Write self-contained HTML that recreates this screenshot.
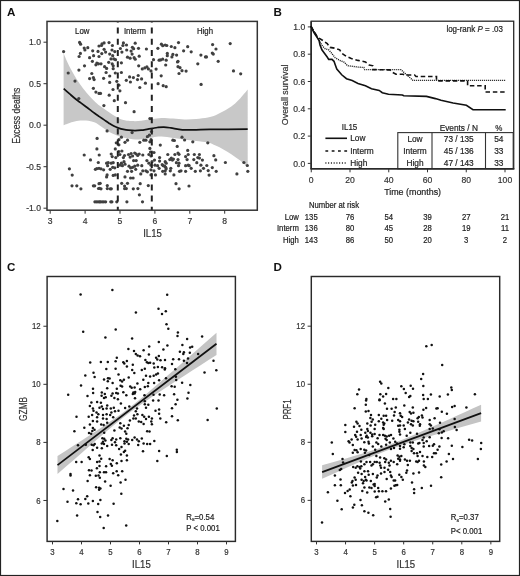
<!DOCTYPE html>
<html><head><meta charset="utf-8"><style>
html,body{margin:0;padding:0;background:#fff;}
body{width:520px;height:576px;overflow:hidden;}
svg{display:block;will-change:transform;font-family:"Liberation Sans", sans-serif;}
</style></head><body>
<svg width="520" height="576" viewBox="0 0 520 576">
<rect x="0" y="0" width="520" height="576" fill="#fff"/>
<text x="7.00" y="15.80" font-size="11.6" text-anchor="start" font-weight="bold" fill="#111" stroke="#111" stroke-width="0" >A</text>
<path d="M63.60,52.60 C63.67,52.87 63.38,52.65 64.00,54.20 C64.62,55.75 66.15,59.40 67.30,61.90 C68.45,64.40 69.68,66.90 70.90,69.20 C72.12,71.50 73.38,73.63 74.60,75.70 C75.82,77.77 76.98,79.77 78.20,81.60 C79.42,83.43 80.70,85.08 81.90,86.70 C83.10,88.32 83.95,89.55 85.40,91.30 C86.85,93.05 88.87,95.35 90.60,97.20 C92.33,99.05 94.10,100.83 95.80,102.40 C97.50,103.97 99.02,105.23 100.80,106.60 C102.58,107.97 104.58,109.27 106.50,110.60 C108.42,111.93 110.37,113.37 112.30,114.60 C114.23,115.83 116.23,117.10 118.10,118.00 C119.97,118.90 121.80,119.53 123.50,120.00 C125.20,120.47 126.38,120.60 128.30,120.80 C130.22,121.00 132.85,121.20 135.00,121.20 C137.15,121.20 139.22,121.03 141.20,120.80 C143.18,120.57 144.98,120.12 146.90,119.80 C148.82,119.48 150.27,119.22 152.70,118.90 C155.13,118.58 158.10,117.97 161.50,117.90 C164.90,117.83 169.25,118.25 173.10,118.50 C176.95,118.75 180.75,119.32 184.60,119.40 C188.45,119.48 192.33,119.32 196.20,119.00 C200.07,118.68 204.57,118.13 207.80,117.50 C211.03,116.87 213.00,116.23 215.60,115.20 C218.20,114.17 220.78,112.73 223.40,111.30 C226.02,109.87 228.68,108.57 231.30,106.60 C233.92,104.63 236.37,102.37 239.10,99.50 C241.83,96.63 246.27,91.08 247.70,89.40 L247.7,167 L247.70,167.00 C246.27,165.80 241.83,161.93 239.10,159.80 C236.37,157.67 233.92,155.93 231.30,154.20 C228.68,152.47 226.02,150.85 223.40,149.40 C220.78,147.95 218.20,146.65 215.60,145.50 C213.00,144.35 211.03,143.25 207.80,142.50 C204.57,141.75 200.07,141.45 196.20,141.00 C192.33,140.55 188.45,140.28 184.60,139.80 C180.75,139.32 176.95,138.63 173.10,138.10 C169.25,137.57 164.90,136.72 161.50,136.60 C158.10,136.48 155.13,137.12 152.70,137.40 C150.27,137.68 148.82,138.00 146.90,138.30 C144.98,138.60 143.12,139.02 141.20,139.20 C139.28,139.38 137.33,139.47 135.40,139.40 C133.47,139.33 131.53,139.08 129.60,138.80 C127.67,138.52 125.72,138.17 123.80,137.70 C121.88,137.23 120.02,136.70 118.10,136.00 C116.18,135.30 114.23,134.47 112.30,133.50 C110.37,132.53 108.42,131.42 106.50,130.20 C104.58,128.98 102.72,127.47 100.80,126.20 C98.88,124.93 97.08,123.50 95.00,122.60 C92.92,121.70 90.73,121.13 88.30,120.80 C85.87,120.47 83.02,120.38 80.40,120.60 C77.78,120.82 75.40,121.32 72.60,122.10 C69.80,122.88 65.10,124.77 63.60,125.30 Z" fill="#c8c8c8" stroke="none"/>
<circle cx="63.6" cy="51.6" r="1.6" fill="#404040"/>
<circle cx="79.6" cy="42.4" r="1.6" fill="#404040"/>
<circle cx="80.6" cy="44.2" r="1.6" fill="#404040"/>
<circle cx="84.2" cy="48.0" r="1.6" fill="#404040"/>
<circle cx="84.9" cy="50.0" r="1.6" fill="#404040"/>
<circle cx="87.8" cy="47.7" r="1.6" fill="#404040"/>
<circle cx="92.7" cy="50.8" r="1.6" fill="#404040"/>
<circle cx="98.0" cy="51.4" r="1.6" fill="#404040"/>
<circle cx="99.0" cy="46.0" r="1.6" fill="#404040"/>
<circle cx="80.4" cy="53.4" r="1.6" fill="#404040"/>
<circle cx="79.1" cy="56.5" r="1.6" fill="#404040"/>
<circle cx="93.6" cy="55.7" r="1.6" fill="#404040"/>
<circle cx="89.6" cy="57.7" r="1.6" fill="#404040"/>
<circle cx="92.4" cy="61.3" r="1.6" fill="#404040"/>
<circle cx="99.0" cy="56.5" r="1.6" fill="#404040"/>
<circle cx="96.9" cy="63.0" r="1.6" fill="#404040"/>
<circle cx="95.9" cy="64.8" r="1.6" fill="#404040"/>
<circle cx="98.5" cy="63.8" r="1.6" fill="#404040"/>
<circle cx="84.5" cy="65.8" r="1.6" fill="#404040"/>
<circle cx="78.9" cy="70.1" r="1.6" fill="#404040"/>
<circle cx="68.2" cy="73.0" r="1.6" fill="#404040"/>
<circle cx="91.8" cy="73.5" r="1.6" fill="#404040"/>
<circle cx="102.0" cy="43.9" r="1.6" fill="#404040"/>
<circle cx="104.1" cy="42.9" r="1.6" fill="#404040"/>
<circle cx="101.5" cy="45.5" r="1.6" fill="#404040"/>
<circle cx="109.0" cy="42.6" r="1.6" fill="#404040"/>
<circle cx="112.4" cy="45.5" r="1.6" fill="#404040"/>
<circle cx="104.1" cy="49.3" r="1.6" fill="#404040"/>
<circle cx="101.8" cy="53.6" r="1.6" fill="#404040"/>
<circle cx="105.6" cy="52.1" r="1.6" fill="#404040"/>
<circle cx="112.0" cy="50.0" r="1.6" fill="#404040"/>
<circle cx="109.7" cy="54.1" r="1.6" fill="#404040"/>
<circle cx="114.8" cy="51.6" r="1.6" fill="#404040"/>
<circle cx="112.7" cy="55.7" r="1.6" fill="#404040"/>
<circle cx="111.0" cy="58.9" r="1.6" fill="#404040"/>
<circle cx="113.8" cy="58.9" r="1.6" fill="#404040"/>
<circle cx="115.5" cy="59.7" r="1.6" fill="#404040"/>
<circle cx="108.7" cy="62.3" r="1.6" fill="#404040"/>
<circle cx="112.2" cy="63.8" r="1.6" fill="#404040"/>
<circle cx="113.2" cy="65.8" r="1.6" fill="#404040"/>
<circle cx="104.6" cy="66.7" r="1.6" fill="#404040"/>
<circle cx="106.6" cy="68.4" r="1.6" fill="#404040"/>
<circle cx="113.2" cy="68.7" r="1.6" fill="#404040"/>
<circle cx="101.0" cy="63.8" r="1.6" fill="#404040"/>
<circle cx="121.4" cy="62.8" r="1.6" fill="#404040"/>
<circle cx="120.4" cy="48.5" r="1.6" fill="#404040"/>
<circle cx="122.9" cy="45.5" r="1.6" fill="#404040"/>
<circle cx="123.4" cy="42.9" r="1.6" fill="#404040"/>
<circle cx="126.5" cy="45.0" r="1.6" fill="#404040"/>
<circle cx="121.9" cy="52.1" r="1.6" fill="#404040"/>
<circle cx="126.7" cy="50.0" r="1.6" fill="#404040"/>
<circle cx="131.1" cy="51.1" r="1.6" fill="#404040"/>
<circle cx="132.4" cy="47.3" r="1.6" fill="#404040"/>
<circle cx="133.6" cy="48.7" r="1.6" fill="#404040"/>
<circle cx="135.2" cy="43.2" r="1.6" fill="#404040"/>
<circle cx="138.5" cy="48.3" r="1.6" fill="#404040"/>
<circle cx="132.1" cy="54.1" r="1.6" fill="#404040"/>
<circle cx="139.2" cy="56.2" r="1.6" fill="#404040"/>
<circle cx="127.5" cy="57.2" r="1.6" fill="#404040"/>
<circle cx="130.1" cy="58.2" r="1.6" fill="#404040"/>
<circle cx="134.1" cy="57.7" r="1.6" fill="#404040"/>
<circle cx="135.2" cy="59.2" r="1.6" fill="#404040"/>
<circle cx="146.4" cy="49.0" r="1.6" fill="#404040"/>
<circle cx="138.7" cy="65.8" r="1.6" fill="#404040"/>
<circle cx="142.3" cy="68.9" r="1.6" fill="#404040"/>
<circle cx="144.8" cy="67.9" r="1.6" fill="#404040"/>
<circle cx="146.9" cy="66.9" r="1.6" fill="#404040"/>
<circle cx="148.4" cy="68.9" r="1.6" fill="#404040"/>
<circle cx="151.0" cy="70.9" r="1.6" fill="#404040"/>
<circle cx="106.1" cy="72.5" r="1.6" fill="#404040"/>
<circle cx="121.4" cy="72.5" r="1.6" fill="#404040"/>
<circle cx="115.3" cy="73.0" r="1.6" fill="#404040"/>
<circle cx="157.9" cy="48.3" r="1.6" fill="#404040"/>
<circle cx="161.4" cy="44.2" r="1.6" fill="#404040"/>
<circle cx="162.7" cy="45.7" r="1.6" fill="#404040"/>
<circle cx="165.2" cy="45.0" r="1.6" fill="#404040"/>
<circle cx="166.8" cy="45.5" r="1.6" fill="#404040"/>
<circle cx="171.3" cy="46.5" r="1.6" fill="#404040"/>
<circle cx="174.9" cy="47.7" r="1.6" fill="#404040"/>
<circle cx="178.5" cy="42.6" r="1.6" fill="#404040"/>
<circle cx="187.7" cy="46.7" r="1.6" fill="#404040"/>
<circle cx="183.6" cy="50.8" r="1.6" fill="#404040"/>
<circle cx="191.2" cy="51.8" r="1.6" fill="#404040"/>
<circle cx="200.9" cy="55.1" r="1.6" fill="#404040"/>
<circle cx="205.5" cy="56.9" r="1.6" fill="#404040"/>
<circle cx="167.3" cy="53.4" r="1.6" fill="#404040"/>
<circle cx="167.3" cy="55.7" r="1.6" fill="#404040"/>
<circle cx="172.9" cy="54.4" r="1.6" fill="#404040"/>
<circle cx="171.9" cy="56.9" r="1.6" fill="#404040"/>
<circle cx="176.6" cy="55.1" r="1.6" fill="#404040"/>
<circle cx="153.5" cy="59.7" r="1.6" fill="#404040"/>
<circle cx="159.1" cy="60.2" r="1.6" fill="#404040"/>
<circle cx="160.6" cy="59.9" r="1.6" fill="#404040"/>
<circle cx="162.7" cy="59.2" r="1.6" fill="#404040"/>
<circle cx="166.2" cy="60.2" r="1.6" fill="#404040"/>
<circle cx="165.7" cy="65.0" r="1.6" fill="#404040"/>
<circle cx="178.0" cy="61.3" r="1.6" fill="#404040"/>
<circle cx="177.5" cy="62.0" r="1.6" fill="#404040"/>
<circle cx="197.8" cy="63.8" r="1.6" fill="#404040"/>
<circle cx="156.1" cy="69.1" r="1.6" fill="#404040"/>
<circle cx="178.0" cy="66.7" r="1.6" fill="#404040"/>
<circle cx="180.0" cy="67.7" r="1.6" fill="#404040"/>
<circle cx="182.0" cy="70.7" r="1.6" fill="#404040"/>
<circle cx="186.1" cy="71.1" r="1.6" fill="#404040"/>
<circle cx="179.0" cy="73.5" r="1.6" fill="#404040"/>
<circle cx="212.6" cy="44.6" r="1.6" fill="#404040"/>
<circle cx="216.0" cy="49.0" r="1.6" fill="#404040"/>
<circle cx="212.3" cy="53.1" r="1.6" fill="#404040"/>
<circle cx="213.3" cy="54.1" r="1.6" fill="#404040"/>
<circle cx="206.5" cy="56.9" r="1.6" fill="#404040"/>
<circle cx="218.2" cy="61.3" r="1.6" fill="#404040"/>
<circle cx="230.2" cy="43.6" r="1.6" fill="#404040"/>
<circle cx="233.5" cy="70.9" r="1.6" fill="#404040"/>
<circle cx="240.7" cy="73.8" r="1.6" fill="#404040"/>
<circle cx="75.0" cy="81.1" r="1.6" fill="#404040"/>
<circle cx="89.6" cy="78.6" r="1.6" fill="#404040"/>
<circle cx="93.4" cy="77.6" r="1.6" fill="#404040"/>
<circle cx="94.1" cy="79.6" r="1.6" fill="#404040"/>
<circle cx="93.4" cy="88.3" r="1.6" fill="#404040"/>
<circle cx="95.9" cy="92.1" r="1.6" fill="#404040"/>
<circle cx="99.0" cy="93.4" r="1.6" fill="#404040"/>
<circle cx="78.8" cy="98.5" r="1.6" fill="#404040"/>
<circle cx="103.6" cy="78.3" r="1.6" fill="#404040"/>
<circle cx="109.7" cy="76.0" r="1.6" fill="#404040"/>
<circle cx="109.7" cy="82.4" r="1.6" fill="#404040"/>
<circle cx="116.8" cy="81.3" r="1.6" fill="#404040"/>
<circle cx="118.9" cy="85.2" r="1.6" fill="#404040"/>
<circle cx="119.9" cy="90.8" r="1.6" fill="#404040"/>
<circle cx="113.0" cy="89.5" r="1.6" fill="#404040"/>
<circle cx="100.5" cy="93.4" r="1.6" fill="#404040"/>
<circle cx="109.2" cy="95.2" r="1.6" fill="#404040"/>
<circle cx="114.3" cy="100.7" r="1.6" fill="#404040"/>
<circle cx="103.9" cy="105.6" r="1.6" fill="#404040"/>
<circle cx="125.5" cy="102.7" r="1.6" fill="#404040"/>
<circle cx="126.3" cy="80.3" r="1.6" fill="#404040"/>
<circle cx="129.6" cy="76.9" r="1.6" fill="#404040"/>
<circle cx="130.4" cy="82.0" r="1.6" fill="#404040"/>
<circle cx="133.4" cy="77.6" r="1.6" fill="#404040"/>
<circle cx="137.5" cy="79.6" r="1.6" fill="#404040"/>
<circle cx="138.2" cy="75.5" r="1.6" fill="#404040"/>
<circle cx="141.6" cy="78.9" r="1.6" fill="#404040"/>
<circle cx="145.4" cy="83.2" r="1.6" fill="#404040"/>
<circle cx="139.8" cy="87.5" r="1.6" fill="#404040"/>
<circle cx="134.1" cy="111.7" r="1.6" fill="#404040"/>
<circle cx="149.9" cy="118.6" r="1.6" fill="#404040"/>
<circle cx="161.2" cy="75.8" r="1.6" fill="#404040"/>
<circle cx="158.1" cy="83.7" r="1.6" fill="#404040"/>
<circle cx="163.2" cy="85.7" r="1.6" fill="#404040"/>
<circle cx="166.2" cy="86.7" r="1.6" fill="#404040"/>
<circle cx="201.1" cy="84.4" r="1.6" fill="#404040"/>
<circle cx="97.1" cy="138.4" r="1.6" fill="#404040"/>
<circle cx="96.9" cy="148.9" r="1.6" fill="#404040"/>
<circle cx="84.2" cy="155.0" r="1.6" fill="#404040"/>
<circle cx="99.2" cy="155.0" r="1.6" fill="#404040"/>
<circle cx="90.5" cy="159.9" r="1.6" fill="#404040"/>
<circle cx="98.3" cy="162.5" r="1.6" fill="#404040"/>
<circle cx="95.4" cy="169.3" r="1.6" fill="#404040"/>
<circle cx="96.9" cy="168.6" r="1.6" fill="#404040"/>
<circle cx="99.0" cy="168.3" r="1.6" fill="#404040"/>
<circle cx="69.4" cy="168.8" r="1.6" fill="#404040"/>
<circle cx="72.2" cy="175.1" r="1.6" fill="#404040"/>
<circle cx="107.1" cy="130.9" r="1.6" fill="#404040"/>
<circle cx="132.1" cy="132.6" r="1.6" fill="#404040"/>
<circle cx="147.4" cy="136.7" r="1.6" fill="#404040"/>
<circle cx="149.4" cy="135.2" r="1.6" fill="#404040"/>
<circle cx="151.5" cy="131.6" r="1.6" fill="#404040"/>
<circle cx="121.4" cy="137.2" r="1.6" fill="#404040"/>
<circle cx="118.9" cy="139.7" r="1.6" fill="#404040"/>
<circle cx="116.3" cy="142.8" r="1.6" fill="#404040"/>
<circle cx="118.9" cy="144.8" r="1.6" fill="#404040"/>
<circle cx="125.0" cy="142.3" r="1.6" fill="#404040"/>
<circle cx="127.5" cy="140.2" r="1.6" fill="#404040"/>
<circle cx="139.8" cy="142.3" r="1.6" fill="#404040"/>
<circle cx="143.8" cy="140.2" r="1.6" fill="#404040"/>
<circle cx="145.9" cy="140.2" r="1.6" fill="#404040"/>
<circle cx="149.9" cy="141.8" r="1.6" fill="#404040"/>
<circle cx="151.0" cy="139.7" r="1.6" fill="#404040"/>
<circle cx="115.3" cy="148.9" r="1.6" fill="#404040"/>
<circle cx="111.2" cy="154.0" r="1.6" fill="#404040"/>
<circle cx="112.2" cy="156.6" r="1.6" fill="#404040"/>
<circle cx="118.9" cy="151.5" r="1.6" fill="#404040"/>
<circle cx="121.9" cy="151.0" r="1.6" fill="#404040"/>
<circle cx="119.9" cy="154.5" r="1.6" fill="#404040"/>
<circle cx="115.8" cy="157.6" r="1.6" fill="#404040"/>
<circle cx="124.5" cy="155.5" r="1.6" fill="#404040"/>
<circle cx="123.4" cy="157.6" r="1.6" fill="#404040"/>
<circle cx="128.5" cy="154.5" r="1.6" fill="#404040"/>
<circle cx="130.1" cy="157.1" r="1.6" fill="#404040"/>
<circle cx="131.1" cy="153.5" r="1.6" fill="#404040"/>
<circle cx="132.6" cy="156.0" r="1.6" fill="#404040"/>
<circle cx="134.7" cy="153.0" r="1.6" fill="#404040"/>
<circle cx="136.2" cy="154.0" r="1.6" fill="#404040"/>
<circle cx="137.7" cy="155.5" r="1.6" fill="#404040"/>
<circle cx="139.2" cy="154.0" r="1.6" fill="#404040"/>
<circle cx="142.8" cy="155.0" r="1.6" fill="#404040"/>
<circle cx="149.9" cy="148.4" r="1.6" fill="#404040"/>
<circle cx="150.5" cy="152.0" r="1.6" fill="#404040"/>
<circle cx="148.9" cy="154.5" r="1.6" fill="#404040"/>
<circle cx="151.0" cy="156.0" r="1.6" fill="#404040"/>
<circle cx="106.6" cy="163.2" r="1.6" fill="#404040"/>
<circle cx="108.2" cy="162.7" r="1.6" fill="#404040"/>
<circle cx="111.2" cy="163.2" r="1.6" fill="#404040"/>
<circle cx="113.2" cy="162.7" r="1.6" fill="#404040"/>
<circle cx="107.6" cy="165.7" r="1.6" fill="#404040"/>
<circle cx="121.4" cy="163.2" r="1.6" fill="#404040"/>
<circle cx="124.0" cy="161.7" r="1.6" fill="#404040"/>
<circle cx="125.0" cy="164.2" r="1.6" fill="#404040"/>
<circle cx="122.4" cy="165.7" r="1.6" fill="#404040"/>
<circle cx="119.9" cy="165.2" r="1.6" fill="#404040"/>
<circle cx="133.6" cy="160.6" r="1.6" fill="#404040"/>
<circle cx="136.2" cy="160.6" r="1.6" fill="#404040"/>
<circle cx="141.8" cy="165.7" r="1.6" fill="#404040"/>
<circle cx="146.9" cy="160.6" r="1.6" fill="#404040"/>
<circle cx="148.9" cy="163.2" r="1.6" fill="#404040"/>
<circle cx="151.0" cy="165.2" r="1.6" fill="#404040"/>
<circle cx="152.0" cy="161.7" r="1.6" fill="#404040"/>
<circle cx="101.0" cy="168.8" r="1.6" fill="#404040"/>
<circle cx="103.6" cy="169.8" r="1.6" fill="#404040"/>
<circle cx="110.2" cy="169.3" r="1.6" fill="#404040"/>
<circle cx="112.7" cy="167.3" r="1.6" fill="#404040"/>
<circle cx="114.8" cy="167.8" r="1.6" fill="#404040"/>
<circle cx="129.0" cy="166.2" r="1.6" fill="#404040"/>
<circle cx="130.6" cy="167.8" r="1.6" fill="#404040"/>
<circle cx="132.6" cy="167.3" r="1.6" fill="#404040"/>
<circle cx="134.7" cy="166.2" r="1.6" fill="#404040"/>
<circle cx="135.7" cy="169.3" r="1.6" fill="#404040"/>
<circle cx="137.7" cy="165.2" r="1.6" fill="#404040"/>
<circle cx="131.6" cy="171.3" r="1.6" fill="#404040"/>
<circle cx="127.5" cy="171.3" r="1.6" fill="#404040"/>
<circle cx="142.8" cy="170.8" r="1.6" fill="#404040"/>
<circle cx="145.9" cy="170.8" r="1.6" fill="#404040"/>
<circle cx="147.4" cy="171.8" r="1.6" fill="#404040"/>
<circle cx="140.8" cy="173.9" r="1.6" fill="#404040"/>
<circle cx="151.0" cy="169.8" r="1.6" fill="#404040"/>
<circle cx="107.1" cy="174.9" r="1.6" fill="#404040"/>
<circle cx="106.6" cy="176.9" r="1.6" fill="#404040"/>
<circle cx="113.2" cy="175.4" r="1.6" fill="#404040"/>
<circle cx="115.3" cy="174.9" r="1.6" fill="#404040"/>
<circle cx="125.0" cy="176.9" r="1.6" fill="#404040"/>
<circle cx="130.6" cy="178.0" r="1.6" fill="#404040"/>
<circle cx="133.1" cy="178.0" r="1.6" fill="#404040"/>
<circle cx="151.0" cy="174.9" r="1.6" fill="#404040"/>
<circle cx="172.9" cy="140.2" r="1.6" fill="#404040"/>
<circle cx="174.4" cy="140.5" r="1.6" fill="#404040"/>
<circle cx="182.0" cy="137.2" r="1.6" fill="#404040"/>
<circle cx="184.6" cy="140.0" r="1.6" fill="#404040"/>
<circle cx="192.8" cy="141.8" r="1.6" fill="#404040"/>
<circle cx="160.3" cy="145.1" r="1.6" fill="#404040"/>
<circle cx="177.2" cy="146.4" r="1.6" fill="#404040"/>
<circle cx="154.0" cy="152.5" r="1.6" fill="#404040"/>
<circle cx="167.8" cy="154.5" r="1.6" fill="#404040"/>
<circle cx="174.9" cy="154.5" r="1.6" fill="#404040"/>
<circle cx="178.0" cy="153.0" r="1.6" fill="#404040"/>
<circle cx="179.0" cy="154.3" r="1.6" fill="#404040"/>
<circle cx="187.7" cy="150.4" r="1.6" fill="#404040"/>
<circle cx="188.2" cy="154.5" r="1.6" fill="#404040"/>
<circle cx="194.3" cy="154.5" r="1.6" fill="#404040"/>
<circle cx="199.4" cy="154.5" r="1.6" fill="#404040"/>
<circle cx="185.6" cy="156.6" r="1.6" fill="#404040"/>
<circle cx="159.6" cy="157.6" r="1.6" fill="#404040"/>
<circle cx="154.5" cy="160.1" r="1.6" fill="#404040"/>
<circle cx="159.6" cy="161.1" r="1.6" fill="#404040"/>
<circle cx="169.8" cy="159.6" r="1.6" fill="#404040"/>
<circle cx="171.3" cy="158.1" r="1.6" fill="#404040"/>
<circle cx="172.4" cy="160.1" r="1.6" fill="#404040"/>
<circle cx="173.4" cy="159.1" r="1.6" fill="#404040"/>
<circle cx="178.0" cy="159.6" r="1.6" fill="#404040"/>
<circle cx="187.1" cy="159.6" r="1.6" fill="#404040"/>
<circle cx="193.8" cy="159.6" r="1.6" fill="#404040"/>
<circle cx="197.8" cy="157.6" r="1.6" fill="#404040"/>
<circle cx="199.4" cy="158.1" r="1.6" fill="#404040"/>
<circle cx="202.4" cy="160.1" r="1.6" fill="#404040"/>
<circle cx="165.2" cy="161.7" r="1.6" fill="#404040"/>
<circle cx="166.2" cy="163.2" r="1.6" fill="#404040"/>
<circle cx="176.4" cy="162.7" r="1.6" fill="#404040"/>
<circle cx="179.0" cy="163.2" r="1.6" fill="#404040"/>
<circle cx="196.8" cy="162.7" r="1.6" fill="#404040"/>
<circle cx="155.0" cy="165.2" r="1.6" fill="#404040"/>
<circle cx="157.6" cy="165.7" r="1.6" fill="#404040"/>
<circle cx="162.2" cy="164.7" r="1.6" fill="#404040"/>
<circle cx="163.2" cy="165.7" r="1.6" fill="#404040"/>
<circle cx="164.7" cy="166.2" r="1.6" fill="#404040"/>
<circle cx="165.7" cy="167.3" r="1.6" fill="#404040"/>
<circle cx="178.5" cy="165.7" r="1.6" fill="#404040"/>
<circle cx="185.6" cy="165.7" r="1.6" fill="#404040"/>
<circle cx="188.2" cy="165.2" r="1.6" fill="#404040"/>
<circle cx="189.2" cy="165.7" r="1.6" fill="#404040"/>
<circle cx="200.9" cy="165.2" r="1.6" fill="#404040"/>
<circle cx="159.1" cy="168.3" r="1.6" fill="#404040"/>
<circle cx="166.2" cy="168.8" r="1.6" fill="#404040"/>
<circle cx="170.8" cy="168.3" r="1.6" fill="#404040"/>
<circle cx="170.3" cy="170.8" r="1.6" fill="#404040"/>
<circle cx="191.2" cy="168.3" r="1.6" fill="#404040"/>
<circle cx="203.5" cy="168.3" r="1.6" fill="#404040"/>
<circle cx="154.0" cy="170.8" r="1.6" fill="#404040"/>
<circle cx="162.7" cy="171.3" r="1.6" fill="#404040"/>
<circle cx="165.2" cy="170.8" r="1.6" fill="#404040"/>
<circle cx="179.5" cy="171.3" r="1.6" fill="#404040"/>
<circle cx="181.0" cy="170.8" r="1.6" fill="#404040"/>
<circle cx="185.6" cy="171.3" r="1.6" fill="#404040"/>
<circle cx="195.3" cy="171.3" r="1.6" fill="#404040"/>
<circle cx="200.4" cy="170.8" r="1.6" fill="#404040"/>
<circle cx="155.5" cy="174.9" r="1.6" fill="#404040"/>
<circle cx="165.2" cy="173.9" r="1.6" fill="#404040"/>
<circle cx="173.9" cy="174.9" r="1.6" fill="#404040"/>
<circle cx="207.8" cy="142.8" r="1.6" fill="#404040"/>
<circle cx="213.9" cy="155.7" r="1.6" fill="#404040"/>
<circle cx="215.7" cy="159.9" r="1.6" fill="#404040"/>
<circle cx="225.4" cy="162.5" r="1.6" fill="#404040"/>
<circle cx="206.8" cy="165.5" r="1.6" fill="#404040"/>
<circle cx="212.3" cy="167.6" r="1.6" fill="#404040"/>
<circle cx="208.2" cy="170.6" r="1.6" fill="#404040"/>
<circle cx="216.2" cy="171.3" r="1.6" fill="#404040"/>
<circle cx="209.1" cy="175.1" r="1.6" fill="#404040"/>
<circle cx="236.9" cy="173.9" r="1.6" fill="#404040"/>
<circle cx="243.9" cy="162.5" r="1.6" fill="#404040"/>
<circle cx="247.3" cy="165.5" r="1.6" fill="#404040"/>
<circle cx="247.8" cy="171.3" r="1.6" fill="#404040"/>
<circle cx="72.0" cy="185.8" r="1.6" fill="#404040"/>
<circle cx="76.8" cy="185.8" r="1.6" fill="#404040"/>
<circle cx="80.9" cy="188.8" r="1.6" fill="#404040"/>
<circle cx="93.4" cy="185.8" r="1.6" fill="#404040"/>
<circle cx="94.7" cy="185.8" r="1.6" fill="#404040"/>
<circle cx="99.0" cy="183.7" r="1.6" fill="#404040"/>
<circle cx="98.5" cy="188.5" r="1.6" fill="#404040"/>
<circle cx="99.5" cy="188.3" r="1.6" fill="#404040"/>
<circle cx="94.9" cy="201.8" r="1.6" fill="#404040"/>
<circle cx="96.4" cy="201.8" r="1.6" fill="#404040"/>
<circle cx="98.0" cy="201.8" r="1.6" fill="#404040"/>
<circle cx="99.5" cy="201.8" r="1.6" fill="#404040"/>
<circle cx="100.2" cy="183.3" r="1.6" fill="#404040"/>
<circle cx="101.0" cy="188.8" r="1.6" fill="#404040"/>
<circle cx="107.3" cy="185.6" r="1.6" fill="#404040"/>
<circle cx="107.3" cy="188.6" r="1.6" fill="#404040"/>
<circle cx="110.2" cy="188.8" r="1.6" fill="#404040"/>
<circle cx="111.3" cy="188.8" r="1.6" fill="#404040"/>
<circle cx="121.7" cy="183.3" r="1.6" fill="#404040"/>
<circle cx="127.5" cy="183.3" r="1.6" fill="#404040"/>
<circle cx="124.6" cy="186.0" r="1.6" fill="#404040"/>
<circle cx="124.6" cy="188.6" r="1.6" fill="#404040"/>
<circle cx="126.3" cy="188.6" r="1.6" fill="#404040"/>
<circle cx="133.3" cy="188.8" r="1.6" fill="#404040"/>
<circle cx="137.9" cy="188.6" r="1.6" fill="#404040"/>
<circle cx="140.2" cy="183.7" r="1.6" fill="#404040"/>
<circle cx="148.3" cy="185.6" r="1.6" fill="#404040"/>
<circle cx="139.4" cy="194.8" r="1.6" fill="#404040"/>
<circle cx="100.4" cy="201.8" r="1.6" fill="#404040"/>
<circle cx="102.1" cy="201.8" r="1.6" fill="#404040"/>
<circle cx="103.8" cy="201.8" r="1.6" fill="#404040"/>
<circle cx="105.6" cy="201.8" r="1.6" fill="#404040"/>
<circle cx="110.8" cy="201.8" r="1.6" fill="#404040"/>
<circle cx="111.9" cy="201.8" r="1.6" fill="#404040"/>
<circle cx="116.8" cy="201.8" r="1.6" fill="#404040"/>
<circle cx="126.9" cy="201.8" r="1.6" fill="#404040"/>
<circle cx="142.5" cy="201.8" r="1.6" fill="#404040"/>
<circle cx="176.0" cy="183.7" r="1.6" fill="#404040"/>
<circle cx="179.1" cy="188.8" r="1.6" fill="#404040"/>
<circle cx="189.0" cy="186.0" r="1.6" fill="#404040"/>
<path d="M63.70,88.60 C64.75,89.53 68.12,92.55 70.00,94.20 C71.88,95.85 73.33,97.15 75.00,98.50 C76.67,99.85 78.33,101.05 80.00,102.30 C81.67,103.55 83.37,104.78 85.00,106.00 C86.63,107.22 88.20,108.38 89.80,109.60 C91.40,110.82 93.00,112.13 94.60,113.30 C96.20,114.47 97.80,115.50 99.40,116.60 C101.00,117.70 102.60,118.80 104.20,119.90 C105.80,121.00 107.40,122.17 109.00,123.20 C110.60,124.23 112.18,125.28 113.80,126.10 C115.42,126.92 117.08,127.55 118.70,128.10 C120.32,128.65 121.90,129.05 123.50,129.40 C125.10,129.75 126.38,130.00 128.30,130.20 C130.22,130.40 132.85,130.60 135.00,130.60 C137.15,130.60 139.22,130.42 141.20,130.20 C143.18,129.98 144.98,129.62 146.90,129.30 C148.82,128.98 150.93,128.60 152.70,128.30 C154.47,128.00 155.65,127.70 157.50,127.50 C159.35,127.30 161.58,127.03 163.80,127.10 C166.02,127.17 167.72,127.45 170.80,127.90 C173.88,128.35 178.07,129.48 182.30,129.80 C186.53,130.12 191.58,129.87 196.20,129.80 C200.82,129.73 201.42,129.50 210.00,129.40 C218.58,129.30 241.42,129.23 247.70,129.20" fill="none" stroke="#111" stroke-width="1.7"/>
<line x1="117.80" y1="21.40" x2="117.80" y2="210.20" stroke="#222" stroke-width="2" stroke-dasharray="6,5.2" stroke-dashoffset="5"/>
<line x1="151.80" y1="21.40" x2="151.80" y2="210.20" stroke="#222" stroke-width="2" stroke-dasharray="6,5.2" stroke-dashoffset="5"/>
<rect x="47" y="21.4" width="210.3" height="188.79999999999998" fill="none" stroke="#333" stroke-width="1.5"/>
<line x1="43.50" y1="42.20" x2="47.00" y2="42.20" stroke="#333" stroke-width="1" />
<text x="0" y="0" transform="translate(41.00,45.30) scale(0.9346,1)" font-size="9.20" text-anchor="end" font-weight="normal" fill="#333" stroke="#333" stroke-width="0.2" >1.0</text>
<line x1="43.50" y1="83.70" x2="47.00" y2="83.70" stroke="#333" stroke-width="1" />
<text x="0" y="0" transform="translate(41.00,86.80) scale(0.9346,1)" font-size="9.20" text-anchor="end" font-weight="normal" fill="#333" stroke="#333" stroke-width="0.2" >0.5</text>
<line x1="43.50" y1="125.20" x2="47.00" y2="125.20" stroke="#333" stroke-width="1" />
<text x="0" y="0" transform="translate(41.00,128.30) scale(0.9346,1)" font-size="9.20" text-anchor="end" font-weight="normal" fill="#333" stroke="#333" stroke-width="0.2" >0.0</text>
<line x1="43.50" y1="166.70" x2="47.00" y2="166.70" stroke="#333" stroke-width="1" />
<text x="0" y="0" transform="translate(41.00,169.80) scale(0.9346,1)" font-size="9.20" text-anchor="end" font-weight="normal" fill="#333" stroke="#333" stroke-width="0.2" >-0.5</text>
<line x1="43.50" y1="208.20" x2="47.00" y2="208.20" stroke="#333" stroke-width="1" />
<text x="0" y="0" transform="translate(41.00,211.30) scale(0.9346,1)" font-size="9.20" text-anchor="end" font-weight="normal" fill="#333" stroke="#333" stroke-width="0.2" >-1.0</text>
<line x1="50.20" y1="210.20" x2="50.20" y2="213.70" stroke="#333" stroke-width="1" />
<text x="0" y="0" transform="translate(50.20,224.20) scale(0.9346,1)" font-size="9.20" text-anchor="middle" font-weight="normal" fill="#333" stroke="#333" stroke-width="0.2" >3</text>
<line x1="85.10" y1="210.20" x2="85.10" y2="213.70" stroke="#333" stroke-width="1" />
<text x="0" y="0" transform="translate(85.10,224.20) scale(0.9346,1)" font-size="9.20" text-anchor="middle" font-weight="normal" fill="#333" stroke="#333" stroke-width="0.2" >4</text>
<line x1="120.00" y1="210.20" x2="120.00" y2="213.70" stroke="#333" stroke-width="1" />
<text x="0" y="0" transform="translate(120.00,224.20) scale(0.9346,1)" font-size="9.20" text-anchor="middle" font-weight="normal" fill="#333" stroke="#333" stroke-width="0.2" >5</text>
<line x1="154.90" y1="210.20" x2="154.90" y2="213.70" stroke="#333" stroke-width="1" />
<text x="0" y="0" transform="translate(154.90,224.20) scale(0.9346,1)" font-size="9.20" text-anchor="middle" font-weight="normal" fill="#333" stroke="#333" stroke-width="0.2" >6</text>
<line x1="189.80" y1="210.20" x2="189.80" y2="213.70" stroke="#333" stroke-width="1" />
<text x="0" y="0" transform="translate(189.80,224.20) scale(0.9346,1)" font-size="9.20" text-anchor="middle" font-weight="normal" fill="#333" stroke="#333" stroke-width="0.2" >7</text>
<line x1="224.70" y1="210.20" x2="224.70" y2="213.70" stroke="#333" stroke-width="1" />
<text x="0" y="0" transform="translate(224.70,224.20) scale(0.9346,1)" font-size="9.20" text-anchor="middle" font-weight="normal" fill="#333" stroke="#333" stroke-width="0.2" >8</text>
<text x="0" y="0" transform="translate(152.50,237.10) scale(0.9346,1)" font-size="10.27" text-anchor="middle" font-weight="normal" fill="#333" stroke="#333" stroke-width="0.2" >IL15</text>
<text x="0.00" y="0.00" font-size="10" text-anchor="middle" font-weight="normal" fill="#333" stroke="#333" stroke-width="0.2" textLength="56" lengthAdjust="spacingAndGlyphs" transform="translate(19.9,115.7) rotate(-90)">Excess deaths</text>
<text x="0" y="0" transform="translate(82.20,33.50) scale(0.9346,1)" font-size="8.35" text-anchor="middle" font-weight="normal" fill="#222" stroke="#222" stroke-width="0.2" >Low</text>
<text x="0" y="0" transform="translate(135.00,33.50) scale(0.9346,1)" font-size="8.35" text-anchor="middle" font-weight="normal" fill="#222" stroke="#222" stroke-width="0.2" >Interm</text>
<text x="0" y="0" transform="translate(205.00,33.50) scale(0.9346,1)" font-size="8.35" text-anchor="middle" font-weight="normal" fill="#222" stroke="#222" stroke-width="0.2" >High</text>
<text x="273.50" y="15.80" font-size="11.6" text-anchor="start" font-weight="bold" fill="#111" stroke="#111" stroke-width="0" >B</text>
<rect x="311.2" y="21.2" width="202.50000000000006" height="147.60000000000002" fill="none" stroke="#2a2a2a" stroke-width="1.3"/>
<line x1="311.20" y1="21.20" x2="311.20" y2="168.80" stroke="#2a2a2a" stroke-width="1.6" />
<line x1="307.80" y1="163.40" x2="311.20" y2="163.40" stroke="#333" stroke-width="1" />
<text x="0" y="0" transform="translate(305.20,166.50) scale(0.9346,1)" font-size="9.20" text-anchor="end" font-weight="normal" fill="#333" stroke="#333" stroke-width="0.2" >0.0</text>
<line x1="307.80" y1="136.10" x2="311.20" y2="136.10" stroke="#333" stroke-width="1" />
<text x="0" y="0" transform="translate(305.20,139.20) scale(0.9346,1)" font-size="9.20" text-anchor="end" font-weight="normal" fill="#333" stroke="#333" stroke-width="0.2" >0.2</text>
<line x1="307.80" y1="108.80" x2="311.20" y2="108.80" stroke="#333" stroke-width="1" />
<text x="0" y="0" transform="translate(305.20,111.90) scale(0.9346,1)" font-size="9.20" text-anchor="end" font-weight="normal" fill="#333" stroke="#333" stroke-width="0.2" >0.4</text>
<line x1="307.80" y1="81.50" x2="311.20" y2="81.50" stroke="#333" stroke-width="1" />
<text x="0" y="0" transform="translate(305.20,84.60) scale(0.9346,1)" font-size="9.20" text-anchor="end" font-weight="normal" fill="#333" stroke="#333" stroke-width="0.2" >0.6</text>
<line x1="307.80" y1="54.20" x2="311.20" y2="54.20" stroke="#333" stroke-width="1" />
<text x="0" y="0" transform="translate(305.20,57.30) scale(0.9346,1)" font-size="9.20" text-anchor="end" font-weight="normal" fill="#333" stroke="#333" stroke-width="0.2" >0.8</text>
<line x1="307.80" y1="26.90" x2="311.20" y2="26.90" stroke="#333" stroke-width="1" />
<text x="0" y="0" transform="translate(305.20,30.00) scale(0.9346,1)" font-size="9.20" text-anchor="end" font-weight="normal" fill="#333" stroke="#333" stroke-width="0.2" >1.0</text>
<line x1="311.25" y1="168.80" x2="311.25" y2="172.30" stroke="#333" stroke-width="1" />
<text x="0" y="0" transform="translate(311.25,182.60) scale(0.9346,1)" font-size="9.20" text-anchor="middle" font-weight="normal" fill="#333" stroke="#333" stroke-width="0.2" >0</text>
<line x1="350.00" y1="168.80" x2="350.00" y2="172.30" stroke="#333" stroke-width="1" />
<text x="0" y="0" transform="translate(350.00,182.60) scale(0.9346,1)" font-size="9.20" text-anchor="middle" font-weight="normal" fill="#333" stroke="#333" stroke-width="0.2" >20</text>
<line x1="388.75" y1="168.80" x2="388.75" y2="172.30" stroke="#333" stroke-width="1" />
<text x="0" y="0" transform="translate(388.75,182.60) scale(0.9346,1)" font-size="9.20" text-anchor="middle" font-weight="normal" fill="#333" stroke="#333" stroke-width="0.2" >40</text>
<line x1="427.50" y1="168.80" x2="427.50" y2="172.30" stroke="#333" stroke-width="1" />
<text x="0" y="0" transform="translate(427.50,182.60) scale(0.9346,1)" font-size="9.20" text-anchor="middle" font-weight="normal" fill="#333" stroke="#333" stroke-width="0.2" >60</text>
<line x1="466.25" y1="168.80" x2="466.25" y2="172.30" stroke="#333" stroke-width="1" />
<text x="0" y="0" transform="translate(466.25,182.60) scale(0.9346,1)" font-size="9.20" text-anchor="middle" font-weight="normal" fill="#333" stroke="#333" stroke-width="0.2" >80</text>
<line x1="505.00" y1="168.80" x2="505.00" y2="172.30" stroke="#333" stroke-width="1" />
<text x="0" y="0" transform="translate(505.00,182.60) scale(0.9346,1)" font-size="9.20" text-anchor="middle" font-weight="normal" fill="#333" stroke="#333" stroke-width="0.2" >100</text>
<text x="0" y="0" transform="translate(412.60,195.00) scale(0.9346,1)" font-size="9.52" text-anchor="middle" font-weight="normal" fill="#222" stroke="#222" stroke-width="0.2" >Time (months)</text>
<text x="0.00" y="0.00" font-size="9.9" text-anchor="middle" font-weight="normal" fill="#333" stroke="#333" stroke-width="0.2" textLength="60.5" lengthAdjust="spacingAndGlyphs" transform="translate(287.9,94.9) rotate(-90)">Overall survival</text>
<text x="0" y="0" transform="translate(503.00,31.50) scale(0.9346,1)" font-size="8.56" text-anchor="end" font-weight="normal" fill="#222" stroke="#222" stroke-width="0.2" >log-rank <tspan font-style="italic">P</tspan> = .03</text>
<polyline points="310.90,26.20 313.80,32.30 316.70,36.80 319.10,40.70 320.00,45.00 321.90,49.80 324.80,53.70 327.20,57.00 328.70,59.40 332.00,59.40 334.00,61.30 335.40,65.20 336.80,69.00 341.70,74.80 346.50,78.70 352.20,80.60 358.00,83.50 365.40,85.80 371.50,88.80 379.20,90.40 382.30,92.70 388.50,94.20 402.30,95.00 403.80,95.80 426.50,96.40 435.40,98.60 441.00,100.20 453.10,103.00 466.40,105.30 473.00,109.70 505.70,109.70" fill="none" stroke="#111" stroke-width="1.6" />
<polyline points="310.90,26.20 314.70,32.50 317.60,37.30 322.40,40.20 327.20,43.60 330.10,47.40 335.90,48.40 339.70,49.80 341.70,53.20 346.50,56.50 351.30,58.50 358.00,60.40 365.40,61.90 369.20,65.00 373.00,65.80 373.00,69.60 390.00,69.90 391.50,71.90 396.00,74.20 403.00,74.20 404.40,75.00 414.60,75.00 416.00,76.50 436.50,76.50 436.50,80.90 467.60,80.90 467.60,85.80 485.20,85.80 485.20,92.00 505.70,92.00" fill="none" stroke="#111" stroke-width="1.6" stroke-dasharray="4.5,2.8"/>
<polyline points="310.90,26.20 314.70,32.50 318.60,39.20 322.40,46.00 325.30,48.80 328.70,49.80 332.00,53.70 334.90,57.50 339.70,60.40 344.50,62.30 347.40,65.70 351.30,66.20 358.00,67.10 363.80,67.50 364.60,69.60 400.80,69.60 406.90,75.00 413.00,80.40 505.70,80.40" fill="none" stroke="#111" stroke-width="1.4" stroke-dasharray="1,1"/>
<text x="0" y="0" transform="translate(349.50,130.00) scale(0.9346,1)" font-size="8.56" text-anchor="middle" font-weight="normal" fill="#222" stroke="#222" stroke-width="0.2" >IL15</text>
<line x1="325.40" y1="138.30" x2="347.00" y2="138.30" stroke="#111" stroke-width="1.6" />
<line x1="325.40" y1="151.00" x2="347.50" y2="151.00" stroke="#111" stroke-width="1.6" stroke-dasharray="2.8,3.5"/>
<line x1="325.40" y1="163.00" x2="347.00" y2="163.00" stroke="#111" stroke-width="1.4" stroke-dasharray="1,1.75"/>
<text x="0" y="0" transform="translate(350.20,141.30) scale(0.9346,1)" font-size="8.88" text-anchor="start" font-weight="normal" fill="#222" stroke="#222" stroke-width="0.2" >Low</text>
<text x="0" y="0" transform="translate(350.20,154.00) scale(0.9346,1)" font-size="8.88" text-anchor="start" font-weight="normal" fill="#222" stroke="#222" stroke-width="0.2" >Interm</text>
<text x="0" y="0" transform="translate(350.20,165.80) scale(0.9346,1)" font-size="8.88" text-anchor="start" font-weight="normal" fill="#222" stroke="#222" stroke-width="0.2" >High</text>
<rect x="397.8" y="132.6" width="115.40000000000003" height="36.20000000000002" fill="none" stroke="#333" stroke-width="1.1"/>
<line x1="432.00" y1="132.60" x2="432.00" y2="168.80" stroke="#333" stroke-width="1.1" />
<line x1="485.50" y1="132.60" x2="485.50" y2="168.80" stroke="#333" stroke-width="1.1" />
<line x1="310.40" y1="168.80" x2="514.35" y2="168.80" stroke="#2a2a2a" stroke-width="1.6" />
<text x="0" y="0" transform="translate(458.75,131.00) scale(0.9346,1)" font-size="8.88" text-anchor="middle" font-weight="normal" fill="#222" stroke="#222" stroke-width="0.2" >Events / N</text>
<text x="0" y="0" transform="translate(498.75,131.00) scale(0.9346,1)" font-size="8.56" text-anchor="middle" font-weight="normal" fill="#222" stroke="#222" stroke-width="0.2" >%</text>
<text x="0" y="0" transform="translate(415.00,141.75) scale(0.9346,1)" font-size="8.88" text-anchor="middle" font-weight="normal" fill="#222" stroke="#222" stroke-width="0.2" >Low</text>
<text x="0" y="0" transform="translate(458.75,141.75) scale(0.9346,1)" font-size="8.88" text-anchor="middle" font-weight="normal" fill="#222" stroke="#222" stroke-width="0.2" >73 / 135</text>
<text x="0" y="0" transform="translate(498.75,141.75) scale(0.9346,1)" font-size="8.88" text-anchor="middle" font-weight="normal" fill="#222" stroke="#222" stroke-width="0.2" >54</text>
<text x="0" y="0" transform="translate(415.00,153.50) scale(0.9346,1)" font-size="8.88" text-anchor="middle" font-weight="normal" fill="#222" stroke="#222" stroke-width="0.2" >Interm</text>
<text x="0" y="0" transform="translate(458.75,153.50) scale(0.9346,1)" font-size="8.88" text-anchor="middle" font-weight="normal" fill="#222" stroke="#222" stroke-width="0.2" >45 / 136</text>
<text x="0" y="0" transform="translate(498.75,153.50) scale(0.9346,1)" font-size="8.88" text-anchor="middle" font-weight="normal" fill="#222" stroke="#222" stroke-width="0.2" >33</text>
<text x="0" y="0" transform="translate(415.00,165.50) scale(0.9346,1)" font-size="8.88" text-anchor="middle" font-weight="normal" fill="#222" stroke="#222" stroke-width="0.2" >High</text>
<text x="0" y="0" transform="translate(458.75,165.50) scale(0.9346,1)" font-size="8.88" text-anchor="middle" font-weight="normal" fill="#222" stroke="#222" stroke-width="0.2" >47 / 143</text>
<text x="0" y="0" transform="translate(498.75,165.50) scale(0.9346,1)" font-size="8.88" text-anchor="middle" font-weight="normal" fill="#222" stroke="#222" stroke-width="0.2" >33</text>
<text x="0" y="0" transform="translate(334.00,207.80) scale(0.9346,1)" font-size="8.24" text-anchor="middle" font-weight="normal" fill="#222" stroke="#222" stroke-width="0.2" >Number at risk</text>
<text x="0" y="0" transform="translate(298.80,219.80) scale(0.9346,1)" font-size="8.24" text-anchor="end" font-weight="normal" fill="#222" stroke="#222" stroke-width="0.2" >Low</text>
<text x="0" y="0" transform="translate(311.25,219.80) scale(0.9346,1)" font-size="8.24" text-anchor="middle" font-weight="normal" fill="#222" stroke="#222" stroke-width="0.2" >135</text>
<text x="0" y="0" transform="translate(350.00,219.80) scale(0.9346,1)" font-size="8.24" text-anchor="middle" font-weight="normal" fill="#222" stroke="#222" stroke-width="0.2" >76</text>
<text x="0" y="0" transform="translate(388.75,219.80) scale(0.9346,1)" font-size="8.24" text-anchor="middle" font-weight="normal" fill="#222" stroke="#222" stroke-width="0.2" >54</text>
<text x="0" y="0" transform="translate(427.50,219.80) scale(0.9346,1)" font-size="8.24" text-anchor="middle" font-weight="normal" fill="#222" stroke="#222" stroke-width="0.2" >39</text>
<text x="0" y="0" transform="translate(466.25,219.80) scale(0.9346,1)" font-size="8.24" text-anchor="middle" font-weight="normal" fill="#222" stroke="#222" stroke-width="0.2" >27</text>
<text x="0" y="0" transform="translate(505.00,219.80) scale(0.9346,1)" font-size="8.24" text-anchor="middle" font-weight="normal" fill="#222" stroke="#222" stroke-width="0.2" >21</text>
<text x="0" y="0" transform="translate(298.80,231.30) scale(0.9346,1)" font-size="8.24" text-anchor="end" font-weight="normal" fill="#222" stroke="#222" stroke-width="0.2" >Interm</text>
<text x="0" y="0" transform="translate(311.25,231.30) scale(0.9346,1)" font-size="8.24" text-anchor="middle" font-weight="normal" fill="#222" stroke="#222" stroke-width="0.2" >136</text>
<text x="0" y="0" transform="translate(350.00,231.30) scale(0.9346,1)" font-size="8.24" text-anchor="middle" font-weight="normal" fill="#222" stroke="#222" stroke-width="0.2" >80</text>
<text x="0" y="0" transform="translate(388.75,231.30) scale(0.9346,1)" font-size="8.24" text-anchor="middle" font-weight="normal" fill="#222" stroke="#222" stroke-width="0.2" >45</text>
<text x="0" y="0" transform="translate(427.50,231.30) scale(0.9346,1)" font-size="8.24" text-anchor="middle" font-weight="normal" fill="#222" stroke="#222" stroke-width="0.2" >28</text>
<text x="0" y="0" transform="translate(466.25,231.30) scale(0.9346,1)" font-size="8.24" text-anchor="middle" font-weight="normal" fill="#222" stroke="#222" stroke-width="0.2" >19</text>
<text x="0" y="0" transform="translate(505.00,231.30) scale(0.9346,1)" font-size="8.24" text-anchor="middle" font-weight="normal" fill="#222" stroke="#222" stroke-width="0.2" >11</text>
<text x="0" y="0" transform="translate(298.80,242.80) scale(0.9346,1)" font-size="8.24" text-anchor="end" font-weight="normal" fill="#222" stroke="#222" stroke-width="0.2" >High</text>
<text x="0" y="0" transform="translate(311.25,242.80) scale(0.9346,1)" font-size="8.24" text-anchor="middle" font-weight="normal" fill="#222" stroke="#222" stroke-width="0.2" >143</text>
<text x="0" y="0" transform="translate(350.00,242.80) scale(0.9346,1)" font-size="8.24" text-anchor="middle" font-weight="normal" fill="#222" stroke="#222" stroke-width="0.2" >86</text>
<text x="0" y="0" transform="translate(388.75,242.80) scale(0.9346,1)" font-size="8.24" text-anchor="middle" font-weight="normal" fill="#222" stroke="#222" stroke-width="0.2" >50</text>
<text x="0" y="0" transform="translate(427.50,242.80) scale(0.9346,1)" font-size="8.24" text-anchor="middle" font-weight="normal" fill="#222" stroke="#222" stroke-width="0.2" >20</text>
<text x="0" y="0" transform="translate(466.25,242.80) scale(0.9346,1)" font-size="8.24" text-anchor="middle" font-weight="normal" fill="#222" stroke="#222" stroke-width="0.2" >3</text>
<text x="0" y="0" transform="translate(505.00,242.80) scale(0.9346,1)" font-size="8.24" text-anchor="middle" font-weight="normal" fill="#222" stroke="#222" stroke-width="0.2" >2</text>
<text x="7.00" y="271.00" font-size="11.6" text-anchor="start" font-weight="bold" fill="#111" stroke="#111" stroke-width="0" >C</text>
<rect x="47.1" y="276.5" width="188.3" height="264.9" fill="none" stroke="#2a2a2a" stroke-width="1.45"/>
<path d="M57.50,456.08 L65.45,450.95 L73.40,445.80 L81.35,440.65 L89.30,435.46 L97.25,430.24 L105.20,424.95 L113.15,419.55 L121.10,413.94 L129.05,408.01 L137.00,401.72 L144.95,395.13 L152.90,388.37 L160.85,381.50 L168.80,374.58 L176.75,367.63 L184.70,360.65 L192.65,353.66 L200.60,346.66 L208.55,339.65 L216.50,332.63 L216.50,354.97 L208.55,360.08 L200.60,365.20 L192.65,370.33 L184.70,375.47 L176.75,380.62 L168.80,385.80 L160.85,391.01 L152.90,396.27 L144.95,401.64 L137.00,407.18 L129.05,413.02 L121.10,419.22 L113.15,425.74 L105.20,432.47 L97.25,439.31 L89.30,446.22 L81.35,453.16 L73.40,460.14 L65.45,467.12 L57.50,474.12 Z" fill="#c4c4c4"/>
<circle cx="80.6" cy="294.4" r="1.25" fill="#111"/>
<circle cx="112.4" cy="289.9" r="1.25" fill="#111"/>
<circle cx="135.9" cy="312.5" r="1.25" fill="#111"/>
<circle cx="83.2" cy="331.7" r="1.25" fill="#111"/>
<circle cx="115.7" cy="329.5" r="1.25" fill="#111"/>
<circle cx="105.4" cy="337.5" r="1.25" fill="#111"/>
<circle cx="132.1" cy="338.4" r="1.25" fill="#111"/>
<circle cx="167.2" cy="294.8" r="1.25" fill="#111"/>
<circle cx="158.5" cy="308.7" r="1.25" fill="#111"/>
<circle cx="165.8" cy="311.2" r="1.25" fill="#111"/>
<circle cx="162.0" cy="314.1" r="1.25" fill="#111"/>
<circle cx="166.5" cy="324.3" r="1.25" fill="#111"/>
<circle cx="168.3" cy="328.8" r="1.25" fill="#111"/>
<circle cx="177.9" cy="332.4" r="1.25" fill="#111"/>
<circle cx="177.5" cy="336.0" r="1.25" fill="#111"/>
<circle cx="187.1" cy="338.9" r="1.25" fill="#111"/>
<circle cx="202.1" cy="336.6" r="1.25" fill="#111"/>
<circle cx="90.2" cy="362.5" r="1.25" fill="#111"/>
<circle cx="100.9" cy="362.1" r="1.25" fill="#111"/>
<circle cx="107.8" cy="362.1" r="1.25" fill="#111"/>
<circle cx="106.3" cy="368.9" r="1.25" fill="#111"/>
<circle cx="93.5" cy="372.7" r="1.25" fill="#111"/>
<circle cx="85.3" cy="375.5" r="1.25" fill="#111"/>
<circle cx="94.6" cy="376.9" r="1.25" fill="#111"/>
<circle cx="104.0" cy="379.4" r="1.25" fill="#111"/>
<circle cx="108.0" cy="378.2" r="1.25" fill="#111"/>
<circle cx="107.8" cy="381.3" r="1.25" fill="#111"/>
<circle cx="81.0" cy="385.5" r="1.25" fill="#111"/>
<circle cx="93.0" cy="388.7" r="1.25" fill="#111"/>
<circle cx="107.2" cy="388.2" r="1.25" fill="#111"/>
<circle cx="93.1" cy="393.0" r="1.25" fill="#111"/>
<circle cx="101.8" cy="392.5" r="1.25" fill="#111"/>
<circle cx="104.8" cy="394.1" r="1.25" fill="#111"/>
<circle cx="68.2" cy="394.7" r="1.25" fill="#111"/>
<circle cx="87.5" cy="396.1" r="1.25" fill="#111"/>
<circle cx="101.6" cy="395.8" r="1.25" fill="#111"/>
<circle cx="104.0" cy="398.0" r="1.25" fill="#111"/>
<circle cx="105.7" cy="397.3" r="1.25" fill="#111"/>
<circle cx="91.4" cy="402.4" r="1.25" fill="#111"/>
<circle cx="97.1" cy="402.0" r="1.25" fill="#111"/>
<circle cx="100.9" cy="402.8" r="1.25" fill="#111"/>
<circle cx="158.8" cy="342.0" r="1.25" fill="#111"/>
<circle cx="167.4" cy="345.4" r="1.25" fill="#111"/>
<circle cx="149.2" cy="346.4" r="1.25" fill="#111"/>
<circle cx="128.4" cy="348.9" r="1.25" fill="#111"/>
<circle cx="143.6" cy="350.3" r="1.25" fill="#111"/>
<circle cx="163.4" cy="349.6" r="1.25" fill="#111"/>
<circle cx="134.0" cy="351.1" r="1.25" fill="#111"/>
<circle cx="135.8" cy="353.9" r="1.25" fill="#111"/>
<circle cx="137.6" cy="355.5" r="1.25" fill="#111"/>
<circle cx="140.0" cy="356.3" r="1.25" fill="#111"/>
<circle cx="148.9" cy="354.4" r="1.25" fill="#111"/>
<circle cx="158.8" cy="355.9" r="1.25" fill="#111"/>
<circle cx="156.1" cy="357.7" r="1.25" fill="#111"/>
<circle cx="157.3" cy="359.5" r="1.25" fill="#111"/>
<circle cx="160.5" cy="360.3" r="1.25" fill="#111"/>
<circle cx="165.0" cy="360.1" r="1.25" fill="#111"/>
<circle cx="116.8" cy="357.7" r="1.25" fill="#111"/>
<circle cx="115.6" cy="361.3" r="1.25" fill="#111"/>
<circle cx="126.9" cy="361.0" r="1.25" fill="#111"/>
<circle cx="123.3" cy="362.2" r="1.25" fill="#111"/>
<circle cx="124.3" cy="363.4" r="1.25" fill="#111"/>
<circle cx="145.4" cy="360.1" r="1.25" fill="#111"/>
<circle cx="146.9" cy="362.2" r="1.25" fill="#111"/>
<circle cx="148.3" cy="363.1" r="1.25" fill="#111"/>
<circle cx="150.1" cy="362.7" r="1.25" fill="#111"/>
<circle cx="153.7" cy="363.4" r="1.25" fill="#111"/>
<circle cx="132.8" cy="364.8" r="1.25" fill="#111"/>
<circle cx="126.9" cy="366.6" r="1.25" fill="#111"/>
<circle cx="154.3" cy="367.5" r="1.25" fill="#111"/>
<circle cx="157.9" cy="367.0" r="1.25" fill="#111"/>
<circle cx="162.1" cy="367.2" r="1.25" fill="#111"/>
<circle cx="165.0" cy="368.2" r="1.25" fill="#111"/>
<circle cx="164.8" cy="369.4" r="1.25" fill="#111"/>
<circle cx="115.6" cy="368.7" r="1.25" fill="#111"/>
<circle cx="132.2" cy="370.0" r="1.25" fill="#111"/>
<circle cx="141.8" cy="369.9" r="1.25" fill="#111"/>
<circle cx="144.8" cy="368.7" r="1.25" fill="#111"/>
<circle cx="134.3" cy="373.0" r="1.25" fill="#111"/>
<circle cx="118.5" cy="374.6" r="1.25" fill="#111"/>
<circle cx="146.0" cy="375.8" r="1.25" fill="#111"/>
<circle cx="150.1" cy="376.5" r="1.25" fill="#111"/>
<circle cx="153.7" cy="375.8" r="1.25" fill="#111"/>
<circle cx="156.1" cy="374.4" r="1.25" fill="#111"/>
<circle cx="157.9" cy="373.4" r="1.25" fill="#111"/>
<circle cx="128.7" cy="377.4" r="1.25" fill="#111"/>
<circle cx="109.6" cy="378.6" r="1.25" fill="#111"/>
<circle cx="120.3" cy="380.3" r="1.25" fill="#111"/>
<circle cx="122.1" cy="381.5" r="1.25" fill="#111"/>
<circle cx="123.9" cy="379.8" r="1.25" fill="#111"/>
<circle cx="143.3" cy="379.8" r="1.25" fill="#111"/>
<circle cx="159.1" cy="380.3" r="1.25" fill="#111"/>
<circle cx="166.0" cy="378.2" r="1.25" fill="#111"/>
<circle cx="112.6" cy="383.0" r="1.25" fill="#111"/>
<circle cx="137.4" cy="383.6" r="1.25" fill="#111"/>
<circle cx="148.3" cy="383.1" r="1.25" fill="#111"/>
<circle cx="154.1" cy="383.0" r="1.25" fill="#111"/>
<circle cx="120.6" cy="385.7" r="1.25" fill="#111"/>
<circle cx="122.1" cy="386.5" r="1.25" fill="#111"/>
<circle cx="130.2" cy="386.5" r="1.25" fill="#111"/>
<circle cx="131.7" cy="387.7" r="1.25" fill="#111"/>
<circle cx="134.6" cy="387.5" r="1.25" fill="#111"/>
<circle cx="144.8" cy="386.9" r="1.25" fill="#111"/>
<circle cx="147.8" cy="386.3" r="1.25" fill="#111"/>
<circle cx="116.8" cy="388.7" r="1.25" fill="#111"/>
<circle cx="140.2" cy="389.3" r="1.25" fill="#111"/>
<circle cx="123.3" cy="392.3" r="1.25" fill="#111"/>
<circle cx="133.4" cy="392.5" r="1.25" fill="#111"/>
<circle cx="135.2" cy="392.0" r="1.25" fill="#111"/>
<circle cx="132.8" cy="394.1" r="1.25" fill="#111"/>
<circle cx="134.6" cy="393.5" r="1.25" fill="#111"/>
<circle cx="112.6" cy="393.5" r="1.25" fill="#111"/>
<circle cx="116.2" cy="392.9" r="1.25" fill="#111"/>
<circle cx="117.9" cy="393.5" r="1.25" fill="#111"/>
<circle cx="126.3" cy="395.2" r="1.25" fill="#111"/>
<circle cx="111.4" cy="395.8" r="1.25" fill="#111"/>
<circle cx="114.4" cy="398.0" r="1.25" fill="#111"/>
<circle cx="117.9" cy="399.2" r="1.25" fill="#111"/>
<circle cx="135.0" cy="398.2" r="1.25" fill="#111"/>
<circle cx="144.5" cy="395.2" r="1.25" fill="#111"/>
<circle cx="153.5" cy="394.7" r="1.25" fill="#111"/>
<circle cx="159.7" cy="394.4" r="1.25" fill="#111"/>
<circle cx="164.1" cy="395.2" r="1.25" fill="#111"/>
<circle cx="158.5" cy="400.6" r="1.25" fill="#111"/>
<circle cx="153.1" cy="400.6" r="1.25" fill="#111"/>
<circle cx="144.8" cy="401.2" r="1.25" fill="#111"/>
<circle cx="182.4" cy="344.9" r="1.25" fill="#111"/>
<circle cx="190.1" cy="347.4" r="1.25" fill="#111"/>
<circle cx="192.2" cy="346.8" r="1.25" fill="#111"/>
<circle cx="179.9" cy="351.7" r="1.25" fill="#111"/>
<circle cx="183.9" cy="352.3" r="1.25" fill="#111"/>
<circle cx="183.3" cy="353.9" r="1.25" fill="#111"/>
<circle cx="189.8" cy="352.7" r="1.25" fill="#111"/>
<circle cx="198.1" cy="353.9" r="1.25" fill="#111"/>
<circle cx="173.2" cy="359.2" r="1.25" fill="#111"/>
<circle cx="179.0" cy="359.2" r="1.25" fill="#111"/>
<circle cx="183.9" cy="360.7" r="1.25" fill="#111"/>
<circle cx="188.0" cy="358.5" r="1.25" fill="#111"/>
<circle cx="187.0" cy="362.9" r="1.25" fill="#111"/>
<circle cx="172.0" cy="363.9" r="1.25" fill="#111"/>
<circle cx="213.5" cy="360.7" r="1.25" fill="#111"/>
<circle cx="175.3" cy="369.3" r="1.25" fill="#111"/>
<circle cx="204.5" cy="372.6" r="1.25" fill="#111"/>
<circle cx="216.3" cy="370.2" r="1.25" fill="#111"/>
<circle cx="175.9" cy="376.7" r="1.25" fill="#111"/>
<circle cx="176.2" cy="380.1" r="1.25" fill="#111"/>
<circle cx="182.1" cy="382.8" r="1.25" fill="#111"/>
<circle cx="190.3" cy="385.1" r="1.25" fill="#111"/>
<circle cx="171.6" cy="386.3" r="1.25" fill="#111"/>
<circle cx="174.7" cy="386.8" r="1.25" fill="#111"/>
<circle cx="188.5" cy="392.7" r="1.25" fill="#111"/>
<circle cx="174.1" cy="394.2" r="1.25" fill="#111"/>
<circle cx="187.4" cy="398.6" r="1.25" fill="#111"/>
<circle cx="177.4" cy="399.8" r="1.25" fill="#111"/>
<circle cx="89.9" cy="406.0" r="1.25" fill="#111"/>
<circle cx="92.9" cy="408.4" r="1.25" fill="#111"/>
<circle cx="93.5" cy="410.8" r="1.25" fill="#111"/>
<circle cx="99.5" cy="407.8" r="1.25" fill="#111"/>
<circle cx="101.8" cy="406.6" r="1.25" fill="#111"/>
<circle cx="103.0" cy="409.0" r="1.25" fill="#111"/>
<circle cx="107.2" cy="405.4" r="1.25" fill="#111"/>
<circle cx="106.6" cy="408.4" r="1.25" fill="#111"/>
<circle cx="76.5" cy="416.7" r="1.25" fill="#111"/>
<circle cx="88.7" cy="416.7" r="1.25" fill="#111"/>
<circle cx="92.1" cy="414.9" r="1.25" fill="#111"/>
<circle cx="96.5" cy="412.5" r="1.25" fill="#111"/>
<circle cx="98.3" cy="414.3" r="1.25" fill="#111"/>
<circle cx="97.1" cy="417.3" r="1.25" fill="#111"/>
<circle cx="103.0" cy="414.9" r="1.25" fill="#111"/>
<circle cx="103.0" cy="418.5" r="1.25" fill="#111"/>
<circle cx="106.6" cy="414.3" r="1.25" fill="#111"/>
<circle cx="92.9" cy="420.9" r="1.25" fill="#111"/>
<circle cx="97.1" cy="421.5" r="1.25" fill="#111"/>
<circle cx="106.6" cy="419.1" r="1.25" fill="#111"/>
<circle cx="89.9" cy="424.5" r="1.25" fill="#111"/>
<circle cx="101.2" cy="424.5" r="1.25" fill="#111"/>
<circle cx="103.6" cy="425.1" r="1.25" fill="#111"/>
<circle cx="107.2" cy="422.7" r="1.25" fill="#111"/>
<circle cx="84.3" cy="427.7" r="1.25" fill="#111"/>
<circle cx="92.9" cy="428.0" r="1.25" fill="#111"/>
<circle cx="74.4" cy="431.3" r="1.25" fill="#111"/>
<circle cx="92.3" cy="431.0" r="1.25" fill="#111"/>
<circle cx="94.5" cy="429.8" r="1.25" fill="#111"/>
<circle cx="89.0" cy="433.0" r="1.25" fill="#111"/>
<circle cx="91.1" cy="433.8" r="1.25" fill="#111"/>
<circle cx="104.2" cy="432.8" r="1.25" fill="#111"/>
<circle cx="102.4" cy="438.2" r="1.25" fill="#111"/>
<circle cx="104.2" cy="438.8" r="1.25" fill="#111"/>
<circle cx="103.0" cy="441.8" r="1.25" fill="#111"/>
<circle cx="105.4" cy="440.6" r="1.25" fill="#111"/>
<circle cx="101.8" cy="443.5" r="1.25" fill="#111"/>
<circle cx="104.0" cy="444.1" r="1.25" fill="#111"/>
<circle cx="78.0" cy="445.3" r="1.25" fill="#111"/>
<circle cx="85.8" cy="444.7" r="1.25" fill="#111"/>
<circle cx="91.7" cy="444.7" r="1.25" fill="#111"/>
<circle cx="94.7" cy="444.1" r="1.25" fill="#111"/>
<circle cx="93.5" cy="445.3" r="1.25" fill="#111"/>
<circle cx="97.1" cy="447.7" r="1.25" fill="#111"/>
<circle cx="101.8" cy="448.3" r="1.25" fill="#111"/>
<circle cx="107.2" cy="445.9" r="1.25" fill="#111"/>
<circle cx="92.7" cy="450.1" r="1.25" fill="#111"/>
<circle cx="99.5" cy="455.5" r="1.25" fill="#111"/>
<circle cx="88.7" cy="457.2" r="1.25" fill="#111"/>
<circle cx="89.9" cy="459.0" r="1.25" fill="#111"/>
<circle cx="101.2" cy="458.8" r="1.25" fill="#111"/>
<circle cx="76.2" cy="462.0" r="1.25" fill="#111"/>
<circle cx="81.6" cy="462.0" r="1.25" fill="#111"/>
<circle cx="97.1" cy="462.0" r="1.25" fill="#111"/>
<circle cx="99.5" cy="461.4" r="1.25" fill="#111"/>
<circle cx="120.9" cy="403.6" r="1.25" fill="#111"/>
<circle cx="125.1" cy="408.0" r="1.25" fill="#111"/>
<circle cx="129.3" cy="406.6" r="1.25" fill="#111"/>
<circle cx="110.8" cy="408.4" r="1.25" fill="#111"/>
<circle cx="113.8" cy="407.8" r="1.25" fill="#111"/>
<circle cx="115.0" cy="411.3" r="1.25" fill="#111"/>
<circle cx="111.4" cy="412.5" r="1.25" fill="#111"/>
<circle cx="118.5" cy="410.8" r="1.25" fill="#111"/>
<circle cx="110.2" cy="414.9" r="1.25" fill="#111"/>
<circle cx="113.2" cy="417.3" r="1.25" fill="#111"/>
<circle cx="144.8" cy="404.2" r="1.25" fill="#111"/>
<circle cx="148.3" cy="404.8" r="1.25" fill="#111"/>
<circle cx="146.0" cy="407.8" r="1.25" fill="#111"/>
<circle cx="137.0" cy="408.4" r="1.25" fill="#111"/>
<circle cx="135.8" cy="411.3" r="1.25" fill="#111"/>
<circle cx="137.4" cy="414.3" r="1.25" fill="#111"/>
<circle cx="134.0" cy="415.5" r="1.25" fill="#111"/>
<circle cx="155.5" cy="410.8" r="1.25" fill="#111"/>
<circle cx="159.1" cy="409.6" r="1.25" fill="#111"/>
<circle cx="159.1" cy="413.7" r="1.25" fill="#111"/>
<circle cx="142.4" cy="414.9" r="1.25" fill="#111"/>
<circle cx="144.2" cy="416.7" r="1.25" fill="#111"/>
<circle cx="148.9" cy="416.7" r="1.25" fill="#111"/>
<circle cx="151.9" cy="418.5" r="1.25" fill="#111"/>
<circle cx="146.0" cy="419.1" r="1.25" fill="#111"/>
<circle cx="160.3" cy="418.5" r="1.25" fill="#111"/>
<circle cx="133.4" cy="418.5" r="1.25" fill="#111"/>
<circle cx="135.8" cy="418.5" r="1.25" fill="#111"/>
<circle cx="129.9" cy="420.6" r="1.25" fill="#111"/>
<circle cx="138.8" cy="421.5" r="1.25" fill="#111"/>
<circle cx="141.2" cy="422.1" r="1.25" fill="#111"/>
<circle cx="143.6" cy="423.9" r="1.25" fill="#111"/>
<circle cx="151.3" cy="421.5" r="1.25" fill="#111"/>
<circle cx="151.9" cy="424.2" r="1.25" fill="#111"/>
<circle cx="166.2" cy="422.3" r="1.25" fill="#111"/>
<circle cx="120.3" cy="423.3" r="1.25" fill="#111"/>
<circle cx="123.9" cy="425.7" r="1.25" fill="#111"/>
<circle cx="128.7" cy="425.1" r="1.25" fill="#111"/>
<circle cx="119.7" cy="427.4" r="1.25" fill="#111"/>
<circle cx="121.5" cy="428.6" r="1.25" fill="#111"/>
<circle cx="127.5" cy="428.3" r="1.25" fill="#111"/>
<circle cx="114.4" cy="430.4" r="1.25" fill="#111"/>
<circle cx="125.1" cy="431.6" r="1.25" fill="#111"/>
<circle cx="126.3" cy="433.8" r="1.25" fill="#111"/>
<circle cx="147.2" cy="431.3" r="1.25" fill="#111"/>
<circle cx="149.5" cy="431.6" r="1.25" fill="#111"/>
<circle cx="112.6" cy="438.2" r="1.25" fill="#111"/>
<circle cx="111.4" cy="440.0" r="1.25" fill="#111"/>
<circle cx="120.3" cy="438.2" r="1.25" fill="#111"/>
<circle cx="116.2" cy="439.4" r="1.25" fill="#111"/>
<circle cx="126.3" cy="438.8" r="1.25" fill="#111"/>
<circle cx="128.1" cy="439.4" r="1.25" fill="#111"/>
<circle cx="124.5" cy="441.2" r="1.25" fill="#111"/>
<circle cx="126.9" cy="441.8" r="1.25" fill="#111"/>
<circle cx="132.2" cy="440.0" r="1.25" fill="#111"/>
<circle cx="134.6" cy="437.6" r="1.25" fill="#111"/>
<circle cx="137.0" cy="439.4" r="1.25" fill="#111"/>
<circle cx="141.8" cy="438.5" r="1.25" fill="#111"/>
<circle cx="138.8" cy="441.2" r="1.25" fill="#111"/>
<circle cx="143.6" cy="443.5" r="1.25" fill="#111"/>
<circle cx="147.2" cy="444.1" r="1.25" fill="#111"/>
<circle cx="150.1" cy="444.1" r="1.25" fill="#111"/>
<circle cx="154.3" cy="440.9" r="1.25" fill="#111"/>
<circle cx="115.0" cy="442.3" r="1.25" fill="#111"/>
<circle cx="112.0" cy="444.7" r="1.25" fill="#111"/>
<circle cx="116.2" cy="445.3" r="1.25" fill="#111"/>
<circle cx="124.5" cy="443.5" r="1.25" fill="#111"/>
<circle cx="128.7" cy="444.1" r="1.25" fill="#111"/>
<circle cx="138.2" cy="445.0" r="1.25" fill="#111"/>
<circle cx="121.5" cy="447.1" r="1.25" fill="#111"/>
<circle cx="119.1" cy="448.9" r="1.25" fill="#111"/>
<circle cx="125.1" cy="450.7" r="1.25" fill="#111"/>
<circle cx="123.9" cy="451.9" r="1.25" fill="#111"/>
<circle cx="143.0" cy="451.3" r="1.25" fill="#111"/>
<circle cx="159.1" cy="451.1" r="1.25" fill="#111"/>
<circle cx="120.9" cy="454.5" r="1.25" fill="#111"/>
<circle cx="126.9" cy="455.5" r="1.25" fill="#111"/>
<circle cx="166.8" cy="456.1" r="1.25" fill="#111"/>
<circle cx="109.6" cy="459.0" r="1.25" fill="#111"/>
<circle cx="112.6" cy="460.2" r="1.25" fill="#111"/>
<circle cx="126.9" cy="460.2" r="1.25" fill="#111"/>
<circle cx="121.5" cy="461.1" r="1.25" fill="#111"/>
<circle cx="157.3" cy="461.1" r="1.25" fill="#111"/>
<circle cx="116.8" cy="463.2" r="1.25" fill="#111"/>
<circle cx="110.8" cy="464.0" r="1.25" fill="#111"/>
<circle cx="175.6" cy="404.2" r="1.25" fill="#111"/>
<circle cx="172.0" cy="408.2" r="1.25" fill="#111"/>
<circle cx="172.0" cy="416.3" r="1.25" fill="#111"/>
<circle cx="177.8" cy="420.2" r="1.25" fill="#111"/>
<circle cx="207.6" cy="420.0" r="1.25" fill="#111"/>
<circle cx="216.8" cy="408.5" r="1.25" fill="#111"/>
<circle cx="176.8" cy="449.8" r="1.25" fill="#111"/>
<circle cx="176.9" cy="452.0" r="1.25" fill="#111"/>
<circle cx="99.5" cy="466.1" r="1.25" fill="#111"/>
<circle cx="106.1" cy="466.3" r="1.25" fill="#111"/>
<circle cx="96.9" cy="468.3" r="1.25" fill="#111"/>
<circle cx="89.0" cy="470.3" r="1.25" fill="#111"/>
<circle cx="91.5" cy="470.5" r="1.25" fill="#111"/>
<circle cx="99.8" cy="472.3" r="1.25" fill="#111"/>
<circle cx="104.0" cy="472.3" r="1.25" fill="#111"/>
<circle cx="106.0" cy="472.3" r="1.25" fill="#111"/>
<circle cx="70.5" cy="474.0" r="1.25" fill="#111"/>
<circle cx="70.5" cy="475.6" r="1.25" fill="#111"/>
<circle cx="89.9" cy="475.2" r="1.25" fill="#111"/>
<circle cx="95.8" cy="475.8" r="1.25" fill="#111"/>
<circle cx="98.5" cy="475.6" r="1.25" fill="#111"/>
<circle cx="99.8" cy="477.8" r="1.25" fill="#111"/>
<circle cx="87.6" cy="481.1" r="1.25" fill="#111"/>
<circle cx="105.1" cy="481.5" r="1.25" fill="#111"/>
<circle cx="96.1" cy="487.2" r="1.25" fill="#111"/>
<circle cx="99.1" cy="487.7" r="1.25" fill="#111"/>
<circle cx="100.4" cy="488.5" r="1.25" fill="#111"/>
<circle cx="99.1" cy="489.8" r="1.25" fill="#111"/>
<circle cx="63.5" cy="489.1" r="1.25" fill="#111"/>
<circle cx="73.0" cy="490.5" r="1.25" fill="#111"/>
<circle cx="87.2" cy="496.3" r="1.25" fill="#111"/>
<circle cx="78.0" cy="499.3" r="1.25" fill="#111"/>
<circle cx="85.3" cy="498.9" r="1.25" fill="#111"/>
<circle cx="67.5" cy="501.7" r="1.25" fill="#111"/>
<circle cx="76.3" cy="503.3" r="1.25" fill="#111"/>
<circle cx="80.6" cy="504.2" r="1.25" fill="#111"/>
<circle cx="88.3" cy="503.5" r="1.25" fill="#111"/>
<circle cx="92.9" cy="500.9" r="1.25" fill="#111"/>
<circle cx="100.4" cy="500.0" r="1.25" fill="#111"/>
<circle cx="98.2" cy="503.9" r="1.25" fill="#111"/>
<circle cx="97.5" cy="512.1" r="1.25" fill="#111"/>
<circle cx="100.2" cy="516.9" r="1.25" fill="#111"/>
<circle cx="108.0" cy="515.5" r="1.25" fill="#111"/>
<circle cx="77.1" cy="515.4" r="1.25" fill="#111"/>
<circle cx="57.3" cy="521.1" r="1.25" fill="#111"/>
<circle cx="103.7" cy="528.1" r="1.25" fill="#111"/>
<circle cx="111.9" cy="465.7" r="1.25" fill="#111"/>
<circle cx="116.7" cy="471.2" r="1.25" fill="#111"/>
<circle cx="122.2" cy="471.2" r="1.25" fill="#111"/>
<circle cx="113.2" cy="473.3" r="1.25" fill="#111"/>
<circle cx="118.2" cy="475.2" r="1.25" fill="#111"/>
<circle cx="125.5" cy="479.8" r="1.25" fill="#111"/>
<circle cx="120.6" cy="482.4" r="1.25" fill="#111"/>
<circle cx="110.6" cy="485.7" r="1.25" fill="#111"/>
<circle cx="121.3" cy="493.8" r="1.25" fill="#111"/>
<circle cx="113.6" cy="503.7" r="1.25" fill="#111"/>
<circle cx="126.2" cy="525.4" r="1.25" fill="#111"/>
<line x1="57.50" y1="465.10" x2="216.50" y2="343.80" stroke="#111" stroke-width="1.8" />
<line x1="43.40" y1="500.48" x2="47.10" y2="500.48" stroke="#333" stroke-width="1" />
<text x="0.00" y="0.00" font-size="8.7" text-anchor="end" font-weight="normal" fill="#333" stroke="#333" stroke-width="0.2" transform="translate(40.7,503.53) scale(0.9,1)">6</text>
<line x1="43.40" y1="442.40" x2="47.10" y2="442.40" stroke="#333" stroke-width="1" />
<text x="0.00" y="0.00" font-size="8.7" text-anchor="end" font-weight="normal" fill="#333" stroke="#333" stroke-width="0.2" transform="translate(40.7,445.45) scale(0.9,1)">8</text>
<line x1="43.40" y1="384.32" x2="47.10" y2="384.32" stroke="#333" stroke-width="1" />
<text x="0.00" y="0.00" font-size="8.7" text-anchor="end" font-weight="normal" fill="#333" stroke="#333" stroke-width="0.2" transform="translate(40.7,387.37) scale(0.9,1)">10</text>
<line x1="43.40" y1="326.24" x2="47.10" y2="326.24" stroke="#333" stroke-width="1" />
<text x="0.00" y="0.00" font-size="8.7" text-anchor="end" font-weight="normal" fill="#333" stroke="#333" stroke-width="0.2" transform="translate(40.7,329.29) scale(0.9,1)">12</text>
<line x1="52.50" y1="541.40" x2="52.50" y2="544.40" stroke="#333" stroke-width="1" />
<text x="0.00" y="0.00" font-size="8.7" text-anchor="middle" font-weight="normal" fill="#333" stroke="#333" stroke-width="0.2" transform="translate(52.50,555.3) scale(0.9,1)">3</text>
<line x1="81.50" y1="541.40" x2="81.50" y2="544.40" stroke="#333" stroke-width="1" />
<text x="0.00" y="0.00" font-size="8.7" text-anchor="middle" font-weight="normal" fill="#333" stroke="#333" stroke-width="0.2" transform="translate(81.50,555.3) scale(0.9,1)">4</text>
<line x1="110.50" y1="541.40" x2="110.50" y2="544.40" stroke="#333" stroke-width="1" />
<text x="0.00" y="0.00" font-size="8.7" text-anchor="middle" font-weight="normal" fill="#333" stroke="#333" stroke-width="0.2" transform="translate(110.50,555.3) scale(0.9,1)">5</text>
<line x1="139.50" y1="541.40" x2="139.50" y2="544.40" stroke="#333" stroke-width="1" />
<text x="0.00" y="0.00" font-size="8.7" text-anchor="middle" font-weight="normal" fill="#333" stroke="#333" stroke-width="0.2" transform="translate(139.50,555.3) scale(0.9,1)">6</text>
<line x1="168.50" y1="541.40" x2="168.50" y2="544.40" stroke="#333" stroke-width="1" />
<text x="0.00" y="0.00" font-size="8.7" text-anchor="middle" font-weight="normal" fill="#333" stroke="#333" stroke-width="0.2" transform="translate(168.50,555.3) scale(0.9,1)">7</text>
<line x1="197.50" y1="541.40" x2="197.50" y2="544.40" stroke="#333" stroke-width="1" />
<text x="0.00" y="0.00" font-size="8.7" text-anchor="middle" font-weight="normal" fill="#333" stroke="#333" stroke-width="0.2" transform="translate(197.50,555.3) scale(0.9,1)">8</text>
<line x1="226.50" y1="541.40" x2="226.50" y2="544.40" stroke="#333" stroke-width="1" />
<text x="0.00" y="0.00" font-size="8.7" text-anchor="middle" font-weight="normal" fill="#333" stroke="#333" stroke-width="0.2" transform="translate(226.50,555.3) scale(0.9,1)">9</text>
<text x="0" y="0" transform="translate(141.40,568.10) scale(0.9346,1)" font-size="10.27" text-anchor="middle" font-weight="normal" fill="#333" stroke="#333" stroke-width="0.2" >IL15</text>
<text x="0.00" y="0.00" font-size="10" text-anchor="middle" font-weight="normal" fill="#333" stroke="#333" stroke-width="0.2" textLength="24" lengthAdjust="spacingAndGlyphs" transform="translate(27.2,408.9) rotate(-90)">GZMB</text>
<text x="0" y="0" transform="translate(186.30,519.60) scale(0.9346,1)" font-size="8.35" text-anchor="start" font-weight="normal" fill="#222" stroke="#222" stroke-width="0.2" >R<tspan font-size="5.5" dy="1.5">s</tspan><tspan dy="-1.5">=0.54</tspan></text>
<text x="0" y="0" transform="translate(186.30,531.10) scale(0.9346,1)" font-size="8.35" text-anchor="start" font-weight="normal" fill="#222" stroke="#222" stroke-width="0.2" >P &lt; 0.001</text>
<text x="273.50" y="271.00" font-size="11.6" text-anchor="start" font-weight="bold" fill="#111" stroke="#111" stroke-width="0" >D</text>
<rect x="311.3" y="276.5" width="188.39999999999998" height="264.9" fill="none" stroke="#2a2a2a" stroke-width="1.45"/>
<path d="M322.10,465.33 L330.05,463.04 L338.00,460.73 L345.95,458.41 L353.90,456.06 L361.85,453.66 L369.80,451.20 L377.75,448.64 L385.70,445.94 L393.65,443.05 L401.60,439.95 L409.55,436.69 L417.50,433.31 L425.45,429.84 L433.40,426.31 L441.35,422.75 L449.30,419.17 L457.25,415.57 L465.20,411.95 L473.15,408.33 L481.10,404.70 L481.10,421.50 L473.15,423.77 L465.20,426.05 L457.25,428.33 L449.30,430.63 L441.35,432.95 L433.40,435.29 L425.45,437.66 L417.50,440.09 L409.55,442.61 L401.60,445.25 L393.65,448.05 L385.70,451.06 L377.75,454.26 L369.80,457.60 L361.85,461.04 L353.90,464.54 L345.95,468.09 L338.00,471.67 L330.05,475.26 L322.10,478.87 Z" fill="#c4c4c4"/>
<circle cx="359.0" cy="389.4" r="1.25" fill="#111"/>
<circle cx="357.3" cy="394.3" r="1.25" fill="#111"/>
<circle cx="366.4" cy="399.1" r="1.25" fill="#111"/>
<circle cx="426.3" cy="346.3" r="1.25" fill="#111"/>
<circle cx="431.7" cy="345.1" r="1.25" fill="#111"/>
<circle cx="423.1" cy="373.9" r="1.25" fill="#111"/>
<circle cx="421.2" cy="379.0" r="1.25" fill="#111"/>
<circle cx="380.1" cy="381.8" r="1.25" fill="#111"/>
<circle cx="381.3" cy="383.4" r="1.25" fill="#111"/>
<circle cx="388.3" cy="388.1" r="1.25" fill="#111"/>
<circle cx="401.3" cy="386.3" r="1.25" fill="#111"/>
<circle cx="403.9" cy="389.1" r="1.25" fill="#111"/>
<circle cx="410.7" cy="385.7" r="1.25" fill="#111"/>
<circle cx="413.0" cy="388.7" r="1.25" fill="#111"/>
<circle cx="423.3" cy="386.0" r="1.25" fill="#111"/>
<circle cx="405.7" cy="393.1" r="1.25" fill="#111"/>
<circle cx="409.1" cy="396.9" r="1.25" fill="#111"/>
<circle cx="410.3" cy="396.0" r="1.25" fill="#111"/>
<circle cx="380.3" cy="394.3" r="1.25" fill="#111"/>
<circle cx="383.1" cy="396.6" r="1.25" fill="#111"/>
<circle cx="386.1" cy="393.9" r="1.25" fill="#111"/>
<circle cx="423.1" cy="394.9" r="1.25" fill="#111"/>
<circle cx="430.9" cy="394.5" r="1.25" fill="#111"/>
<circle cx="379.5" cy="399.4" r="1.25" fill="#111"/>
<circle cx="393.1" cy="399.1" r="1.25" fill="#111"/>
<circle cx="396.4" cy="399.1" r="1.25" fill="#111"/>
<circle cx="423.7" cy="399.1" r="1.25" fill="#111"/>
<circle cx="427.9" cy="399.1" r="1.25" fill="#111"/>
<circle cx="442.2" cy="365.1" r="1.25" fill="#111"/>
<circle cx="451.3" cy="387.5" r="1.25" fill="#111"/>
<circle cx="451.8" cy="389.9" r="1.25" fill="#111"/>
<circle cx="447.9" cy="394.5" r="1.25" fill="#111"/>
<circle cx="439.7" cy="396.5" r="1.25" fill="#111"/>
<circle cx="474.9" cy="394.3" r="1.25" fill="#111"/>
<circle cx="366.1" cy="400.6" r="1.25" fill="#111"/>
<circle cx="365.8" cy="404.8" r="1.25" fill="#111"/>
<circle cx="354.6" cy="408.2" r="1.25" fill="#111"/>
<circle cx="365.8" cy="411.5" r="1.25" fill="#111"/>
<circle cx="368.5" cy="411.1" r="1.25" fill="#111"/>
<circle cx="371.0" cy="415.1" r="1.25" fill="#111"/>
<circle cx="370.4" cy="417.9" r="1.25" fill="#111"/>
<circle cx="372.8" cy="419.4" r="1.25" fill="#111"/>
<circle cx="345.3" cy="425.1" r="1.25" fill="#111"/>
<circle cx="354.0" cy="426.7" r="1.25" fill="#111"/>
<circle cx="356.4" cy="421.8" r="1.25" fill="#111"/>
<circle cx="357.6" cy="423.6" r="1.25" fill="#111"/>
<circle cx="359.5" cy="426.0" r="1.25" fill="#111"/>
<circle cx="367.3" cy="423.6" r="1.25" fill="#111"/>
<circle cx="370.6" cy="425.4" r="1.25" fill="#111"/>
<circle cx="371.6" cy="421.8" r="1.25" fill="#111"/>
<circle cx="345.3" cy="432.1" r="1.25" fill="#111"/>
<circle cx="357.0" cy="431.7" r="1.25" fill="#111"/>
<circle cx="361.3" cy="429.7" r="1.25" fill="#111"/>
<circle cx="367.3" cy="429.1" r="1.25" fill="#111"/>
<circle cx="367.9" cy="430.9" r="1.25" fill="#111"/>
<circle cx="365.3" cy="432.7" r="1.25" fill="#111"/>
<circle cx="370.4" cy="432.7" r="1.25" fill="#111"/>
<circle cx="372.2" cy="434.5" r="1.25" fill="#111"/>
<circle cx="355.2" cy="435.1" r="1.25" fill="#111"/>
<circle cx="356.1" cy="436.7" r="1.25" fill="#111"/>
<circle cx="360.7" cy="435.1" r="1.25" fill="#111"/>
<circle cx="361.6" cy="438.5" r="1.25" fill="#111"/>
<circle cx="366.7" cy="435.7" r="1.25" fill="#111"/>
<circle cx="367.9" cy="437.6" r="1.25" fill="#111"/>
<circle cx="366.1" cy="437.0" r="1.25" fill="#111"/>
<circle cx="372.2" cy="436.3" r="1.25" fill="#111"/>
<circle cx="351.6" cy="439.4" r="1.25" fill="#111"/>
<circle cx="348.6" cy="441.2" r="1.25" fill="#111"/>
<circle cx="349.5" cy="442.6" r="1.25" fill="#111"/>
<circle cx="357.6" cy="439.4" r="1.25" fill="#111"/>
<circle cx="364.3" cy="442.2" r="1.25" fill="#111"/>
<circle cx="368.5" cy="441.8" r="1.25" fill="#111"/>
<circle cx="368.9" cy="443.6" r="1.25" fill="#111"/>
<circle cx="331.8" cy="442.4" r="1.25" fill="#111"/>
<circle cx="352.8" cy="445.1" r="1.25" fill="#111"/>
<circle cx="372.8" cy="446.6" r="1.25" fill="#111"/>
<circle cx="332.8" cy="453.9" r="1.25" fill="#111"/>
<circle cx="354.6" cy="449.9" r="1.25" fill="#111"/>
<circle cx="356.4" cy="450.3" r="1.25" fill="#111"/>
<circle cx="357.6" cy="452.3" r="1.25" fill="#111"/>
<circle cx="352.8" cy="452.7" r="1.25" fill="#111"/>
<circle cx="360.7" cy="449.1" r="1.25" fill="#111"/>
<circle cx="364.3" cy="449.7" r="1.25" fill="#111"/>
<circle cx="366.1" cy="450.6" r="1.25" fill="#111"/>
<circle cx="364.9" cy="452.7" r="1.25" fill="#111"/>
<circle cx="342.5" cy="459.1" r="1.25" fill="#111"/>
<circle cx="369.2" cy="455.1" r="1.25" fill="#111"/>
<circle cx="379.5" cy="400.2" r="1.25" fill="#111"/>
<circle cx="384.9" cy="403.6" r="1.25" fill="#111"/>
<circle cx="404.3" cy="405.5" r="1.25" fill="#111"/>
<circle cx="412.8" cy="407.5" r="1.25" fill="#111"/>
<circle cx="426.1" cy="407.9" r="1.25" fill="#111"/>
<circle cx="423.4" cy="409.7" r="1.25" fill="#111"/>
<circle cx="436.4" cy="408.5" r="1.25" fill="#111"/>
<circle cx="387.0" cy="408.7" r="1.25" fill="#111"/>
<circle cx="391.6" cy="408.7" r="1.25" fill="#111"/>
<circle cx="395.8" cy="407.5" r="1.25" fill="#111"/>
<circle cx="394.6" cy="411.9" r="1.25" fill="#111"/>
<circle cx="409.7" cy="412.1" r="1.25" fill="#111"/>
<circle cx="411.0" cy="413.6" r="1.25" fill="#111"/>
<circle cx="413.4" cy="412.7" r="1.25" fill="#111"/>
<circle cx="400.0" cy="413.3" r="1.25" fill="#111"/>
<circle cx="400.7" cy="415.8" r="1.25" fill="#111"/>
<circle cx="402.1" cy="417.0" r="1.25" fill="#111"/>
<circle cx="378.8" cy="415.1" r="1.25" fill="#111"/>
<circle cx="383.7" cy="415.8" r="1.25" fill="#111"/>
<circle cx="386.1" cy="415.8" r="1.25" fill="#111"/>
<circle cx="394.0" cy="415.5" r="1.25" fill="#111"/>
<circle cx="421.9" cy="415.5" r="1.25" fill="#111"/>
<circle cx="422.5" cy="417.6" r="1.25" fill="#111"/>
<circle cx="418.8" cy="417.0" r="1.25" fill="#111"/>
<circle cx="417.6" cy="418.2" r="1.25" fill="#111"/>
<circle cx="381.3" cy="418.8" r="1.25" fill="#111"/>
<circle cx="387.1" cy="420.0" r="1.25" fill="#111"/>
<circle cx="378.8" cy="421.2" r="1.25" fill="#111"/>
<circle cx="392.2" cy="420.8" r="1.25" fill="#111"/>
<circle cx="398.2" cy="420.0" r="1.25" fill="#111"/>
<circle cx="400.0" cy="421.2" r="1.25" fill="#111"/>
<circle cx="409.1" cy="419.6" r="1.25" fill="#111"/>
<circle cx="411.6" cy="420.8" r="1.25" fill="#111"/>
<circle cx="413.4" cy="421.2" r="1.25" fill="#111"/>
<circle cx="407.9" cy="422.4" r="1.25" fill="#111"/>
<circle cx="383.1" cy="422.4" r="1.25" fill="#111"/>
<circle cx="384.3" cy="423.6" r="1.25" fill="#111"/>
<circle cx="383.7" cy="424.8" r="1.25" fill="#111"/>
<circle cx="418.2" cy="421.8" r="1.25" fill="#111"/>
<circle cx="420.0" cy="424.2" r="1.25" fill="#111"/>
<circle cx="419.8" cy="425.7" r="1.25" fill="#111"/>
<circle cx="429.7" cy="420.0" r="1.25" fill="#111"/>
<circle cx="434.6" cy="418.2" r="1.25" fill="#111"/>
<circle cx="375.2" cy="424.8" r="1.25" fill="#111"/>
<circle cx="429.7" cy="424.2" r="1.25" fill="#111"/>
<circle cx="430.9" cy="425.4" r="1.25" fill="#111"/>
<circle cx="398.2" cy="425.7" r="1.25" fill="#111"/>
<circle cx="400.0" cy="425.4" r="1.25" fill="#111"/>
<circle cx="403.7" cy="425.4" r="1.25" fill="#111"/>
<circle cx="411.0" cy="424.2" r="1.25" fill="#111"/>
<circle cx="412.8" cy="425.4" r="1.25" fill="#111"/>
<circle cx="404.9" cy="429.1" r="1.25" fill="#111"/>
<circle cx="383.1" cy="427.9" r="1.25" fill="#111"/>
<circle cx="383.7" cy="429.1" r="1.25" fill="#111"/>
<circle cx="399.4" cy="429.7" r="1.25" fill="#111"/>
<circle cx="374.6" cy="429.1" r="1.25" fill="#111"/>
<circle cx="429.7" cy="429.1" r="1.25" fill="#111"/>
<circle cx="432.8" cy="428.5" r="1.25" fill="#111"/>
<circle cx="399.4" cy="431.7" r="1.25" fill="#111"/>
<circle cx="400.0" cy="434.5" r="1.25" fill="#111"/>
<circle cx="410.3" cy="432.7" r="1.25" fill="#111"/>
<circle cx="417.0" cy="433.7" r="1.25" fill="#111"/>
<circle cx="374.6" cy="433.9" r="1.25" fill="#111"/>
<circle cx="379.5" cy="435.1" r="1.25" fill="#111"/>
<circle cx="383.1" cy="435.1" r="1.25" fill="#111"/>
<circle cx="384.9" cy="435.7" r="1.25" fill="#111"/>
<circle cx="386.7" cy="436.6" r="1.25" fill="#111"/>
<circle cx="389.1" cy="435.7" r="1.25" fill="#111"/>
<circle cx="391.0" cy="435.1" r="1.25" fill="#111"/>
<circle cx="406.7" cy="435.7" r="1.25" fill="#111"/>
<circle cx="377.6" cy="438.2" r="1.25" fill="#111"/>
<circle cx="385.5" cy="438.8" r="1.25" fill="#111"/>
<circle cx="386.7" cy="440.0" r="1.25" fill="#111"/>
<circle cx="393.4" cy="438.5" r="1.25" fill="#111"/>
<circle cx="423.7" cy="437.6" r="1.25" fill="#111"/>
<circle cx="429.7" cy="437.3" r="1.25" fill="#111"/>
<circle cx="422.5" cy="440.0" r="1.25" fill="#111"/>
<circle cx="376.4" cy="442.4" r="1.25" fill="#111"/>
<circle cx="378.2" cy="443.9" r="1.25" fill="#111"/>
<circle cx="389.8" cy="442.4" r="1.25" fill="#111"/>
<circle cx="386.1" cy="444.8" r="1.25" fill="#111"/>
<circle cx="381.3" cy="446.6" r="1.25" fill="#111"/>
<circle cx="395.2" cy="441.8" r="1.25" fill="#111"/>
<circle cx="397.0" cy="443.6" r="1.25" fill="#111"/>
<circle cx="400.0" cy="446.0" r="1.25" fill="#111"/>
<circle cx="404.3" cy="444.2" r="1.25" fill="#111"/>
<circle cx="410.3" cy="442.4" r="1.25" fill="#111"/>
<circle cx="412.8" cy="442.6" r="1.25" fill="#111"/>
<circle cx="418.2" cy="443.6" r="1.25" fill="#111"/>
<circle cx="419.4" cy="443.0" r="1.25" fill="#111"/>
<circle cx="423.7" cy="443.0" r="1.25" fill="#111"/>
<circle cx="426.7" cy="441.2" r="1.25" fill="#111"/>
<circle cx="429.1" cy="446.0" r="1.25" fill="#111"/>
<circle cx="432.8" cy="445.8" r="1.25" fill="#111"/>
<circle cx="434.0" cy="444.2" r="1.25" fill="#111"/>
<circle cx="410.3" cy="446.0" r="1.25" fill="#111"/>
<circle cx="411.6" cy="447.9" r="1.25" fill="#111"/>
<circle cx="413.4" cy="449.1" r="1.25" fill="#111"/>
<circle cx="391.0" cy="449.1" r="1.25" fill="#111"/>
<circle cx="394.0" cy="447.9" r="1.25" fill="#111"/>
<circle cx="400.0" cy="448.7" r="1.25" fill="#111"/>
<circle cx="403.7" cy="447.2" r="1.25" fill="#111"/>
<circle cx="423.7" cy="446.6" r="1.25" fill="#111"/>
<circle cx="375.2" cy="449.7" r="1.25" fill="#111"/>
<circle cx="411.6" cy="450.9" r="1.25" fill="#111"/>
<circle cx="414.0" cy="453.3" r="1.25" fill="#111"/>
<circle cx="417.0" cy="453.3" r="1.25" fill="#111"/>
<circle cx="420.0" cy="452.1" r="1.25" fill="#111"/>
<circle cx="417.6" cy="456.0" r="1.25" fill="#111"/>
<circle cx="422.5" cy="456.0" r="1.25" fill="#111"/>
<circle cx="376.4" cy="456.0" r="1.25" fill="#111"/>
<circle cx="380.1" cy="457.5" r="1.25" fill="#111"/>
<circle cx="384.3" cy="458.2" r="1.25" fill="#111"/>
<circle cx="386.1" cy="459.4" r="1.25" fill="#111"/>
<circle cx="397.6" cy="455.5" r="1.25" fill="#111"/>
<circle cx="399.4" cy="456.7" r="1.25" fill="#111"/>
<circle cx="401.3" cy="456.0" r="1.25" fill="#111"/>
<circle cx="398.2" cy="458.8" r="1.25" fill="#111"/>
<circle cx="400.0" cy="459.4" r="1.25" fill="#111"/>
<circle cx="404.9" cy="459.4" r="1.25" fill="#111"/>
<circle cx="427.3" cy="456.9" r="1.25" fill="#111"/>
<circle cx="432.2" cy="456.9" r="1.25" fill="#111"/>
<circle cx="434.0" cy="453.3" r="1.25" fill="#111"/>
<circle cx="435.8" cy="453.3" r="1.25" fill="#111"/>
<circle cx="437.6" cy="408.2" r="1.25" fill="#111"/>
<circle cx="452.1" cy="407.0" r="1.25" fill="#111"/>
<circle cx="454.6" cy="406.1" r="1.25" fill="#111"/>
<circle cx="466.4" cy="407.5" r="1.25" fill="#111"/>
<circle cx="441.8" cy="411.8" r="1.25" fill="#111"/>
<circle cx="446.9" cy="413.7" r="1.25" fill="#111"/>
<circle cx="454.6" cy="419.1" r="1.25" fill="#111"/>
<circle cx="440.0" cy="422.8" r="1.25" fill="#111"/>
<circle cx="454.9" cy="426.9" r="1.25" fill="#111"/>
<circle cx="456.6" cy="430.0" r="1.25" fill="#111"/>
<circle cx="439.4" cy="429.3" r="1.25" fill="#111"/>
<circle cx="441.8" cy="432.5" r="1.25" fill="#111"/>
<circle cx="443.7" cy="431.3" r="1.25" fill="#111"/>
<circle cx="438.8" cy="433.3" r="1.25" fill="#111"/>
<circle cx="441.6" cy="437.9" r="1.25" fill="#111"/>
<circle cx="448.1" cy="438.2" r="1.25" fill="#111"/>
<circle cx="469.1" cy="439.7" r="1.25" fill="#111"/>
<circle cx="472.1" cy="440.6" r="1.25" fill="#111"/>
<circle cx="481.2" cy="443.0" r="1.25" fill="#111"/>
<circle cx="439.4" cy="446.6" r="1.25" fill="#111"/>
<circle cx="451.8" cy="445.8" r="1.25" fill="#111"/>
<circle cx="462.4" cy="447.0" r="1.25" fill="#111"/>
<circle cx="480.9" cy="449.1" r="1.25" fill="#111"/>
<circle cx="437.6" cy="449.7" r="1.25" fill="#111"/>
<circle cx="448.9" cy="453.9" r="1.25" fill="#111"/>
<circle cx="453.0" cy="459.1" r="1.25" fill="#111"/>
<circle cx="477.9" cy="459.1" r="1.25" fill="#111"/>
<circle cx="343.1" cy="462.5" r="1.25" fill="#111"/>
<circle cx="341.2" cy="469.1" r="1.25" fill="#111"/>
<circle cx="339.8" cy="470.1" r="1.25" fill="#111"/>
<circle cx="360.9" cy="461.4" r="1.25" fill="#111"/>
<circle cx="364.4" cy="464.2" r="1.25" fill="#111"/>
<circle cx="366.5" cy="462.1" r="1.25" fill="#111"/>
<circle cx="370.1" cy="462.1" r="1.25" fill="#111"/>
<circle cx="371.5" cy="465.6" r="1.25" fill="#111"/>
<circle cx="372.9" cy="464.2" r="1.25" fill="#111"/>
<circle cx="353.2" cy="467.0" r="1.25" fill="#111"/>
<circle cx="355.7" cy="467.7" r="1.25" fill="#111"/>
<circle cx="357.4" cy="466.3" r="1.25" fill="#111"/>
<circle cx="359.5" cy="467.0" r="1.25" fill="#111"/>
<circle cx="360.2" cy="468.4" r="1.25" fill="#111"/>
<circle cx="361.3" cy="466.3" r="1.25" fill="#111"/>
<circle cx="358.1" cy="472.7" r="1.25" fill="#111"/>
<circle cx="361.6" cy="474.1" r="1.25" fill="#111"/>
<circle cx="364.4" cy="471.2" r="1.25" fill="#111"/>
<circle cx="368.0" cy="471.2" r="1.25" fill="#111"/>
<circle cx="368.7" cy="474.8" r="1.25" fill="#111"/>
<circle cx="372.9" cy="474.1" r="1.25" fill="#111"/>
<circle cx="334.9" cy="475.5" r="1.25" fill="#111"/>
<circle cx="365.1" cy="476.9" r="1.25" fill="#111"/>
<circle cx="365.8" cy="479.7" r="1.25" fill="#111"/>
<circle cx="361.6" cy="479.7" r="1.25" fill="#111"/>
<circle cx="363.7" cy="481.1" r="1.25" fill="#111"/>
<circle cx="363.0" cy="483.2" r="1.25" fill="#111"/>
<circle cx="366.5" cy="480.4" r="1.25" fill="#111"/>
<circle cx="370.8" cy="481.1" r="1.25" fill="#111"/>
<circle cx="373.6" cy="484.6" r="1.25" fill="#111"/>
<circle cx="354.6" cy="477.6" r="1.25" fill="#111"/>
<circle cx="355.7" cy="479.7" r="1.25" fill="#111"/>
<circle cx="352.5" cy="481.1" r="1.25" fill="#111"/>
<circle cx="351.8" cy="482.5" r="1.25" fill="#111"/>
<circle cx="340.5" cy="479.4" r="1.25" fill="#111"/>
<circle cx="334.9" cy="485.3" r="1.25" fill="#111"/>
<circle cx="340.8" cy="485.3" r="1.25" fill="#111"/>
<circle cx="352.9" cy="485.6" r="1.25" fill="#111"/>
<circle cx="356.0" cy="484.9" r="1.25" fill="#111"/>
<circle cx="364.4" cy="487.4" r="1.25" fill="#111"/>
<circle cx="369.4" cy="487.4" r="1.25" fill="#111"/>
<circle cx="371.5" cy="488.1" r="1.25" fill="#111"/>
<circle cx="362.3" cy="490.9" r="1.25" fill="#111"/>
<circle cx="367.2" cy="492.6" r="1.25" fill="#111"/>
<circle cx="349.7" cy="489.5" r="1.25" fill="#111"/>
<circle cx="347.6" cy="490.9" r="1.25" fill="#111"/>
<circle cx="345.0" cy="493.0" r="1.25" fill="#111"/>
<circle cx="327.9" cy="492.3" r="1.25" fill="#111"/>
<circle cx="350.4" cy="496.3" r="1.25" fill="#111"/>
<circle cx="337.4" cy="500.8" r="1.25" fill="#111"/>
<circle cx="360.5" cy="500.1" r="1.25" fill="#111"/>
<circle cx="354.3" cy="504.7" r="1.25" fill="#111"/>
<circle cx="361.9" cy="505.3" r="1.25" fill="#111"/>
<circle cx="352.9" cy="507.5" r="1.25" fill="#111"/>
<circle cx="341.7" cy="509.2" r="1.25" fill="#111"/>
<circle cx="364.4" cy="511.3" r="1.25" fill="#111"/>
<circle cx="368.4" cy="512.7" r="1.25" fill="#111"/>
<circle cx="373.2" cy="515.3" r="1.25" fill="#111"/>
<circle cx="322.0" cy="522.6" r="1.25" fill="#111"/>
<circle cx="374.7" cy="462.1" r="1.25" fill="#111"/>
<circle cx="376.8" cy="462.1" r="1.25" fill="#111"/>
<circle cx="379.6" cy="462.8" r="1.25" fill="#111"/>
<circle cx="380.3" cy="465.6" r="1.25" fill="#111"/>
<circle cx="381.0" cy="467.7" r="1.25" fill="#111"/>
<circle cx="385.2" cy="462.1" r="1.25" fill="#111"/>
<circle cx="388.8" cy="462.8" r="1.25" fill="#111"/>
<circle cx="390.9" cy="460.7" r="1.25" fill="#111"/>
<circle cx="393.7" cy="462.1" r="1.25" fill="#111"/>
<circle cx="389.5" cy="465.6" r="1.25" fill="#111"/>
<circle cx="397.2" cy="464.2" r="1.25" fill="#111"/>
<circle cx="400.0" cy="460.7" r="1.25" fill="#111"/>
<circle cx="407.0" cy="460.7" r="1.25" fill="#111"/>
<circle cx="409.9" cy="460.7" r="1.25" fill="#111"/>
<circle cx="416.2" cy="461.4" r="1.25" fill="#111"/>
<circle cx="417.6" cy="462.1" r="1.25" fill="#111"/>
<circle cx="419.0" cy="460.7" r="1.25" fill="#111"/>
<circle cx="423.9" cy="461.4" r="1.25" fill="#111"/>
<circle cx="423.9" cy="465.6" r="1.25" fill="#111"/>
<circle cx="425.3" cy="467.0" r="1.25" fill="#111"/>
<circle cx="407.8" cy="464.9" r="1.25" fill="#111"/>
<circle cx="384.5" cy="467.7" r="1.25" fill="#111"/>
<circle cx="388.1" cy="469.8" r="1.25" fill="#111"/>
<circle cx="390.2" cy="472.0" r="1.25" fill="#111"/>
<circle cx="384.5" cy="472.0" r="1.25" fill="#111"/>
<circle cx="381.0" cy="473.4" r="1.25" fill="#111"/>
<circle cx="377.5" cy="475.5" r="1.25" fill="#111"/>
<circle cx="376.8" cy="477.6" r="1.25" fill="#111"/>
<circle cx="390.9" cy="475.5" r="1.25" fill="#111"/>
<circle cx="391.6" cy="476.9" r="1.25" fill="#111"/>
<circle cx="399.3" cy="474.8" r="1.25" fill="#111"/>
<circle cx="401.4" cy="476.9" r="1.25" fill="#111"/>
<circle cx="402.8" cy="479.7" r="1.25" fill="#111"/>
<circle cx="407.0" cy="470.5" r="1.25" fill="#111"/>
<circle cx="406.3" cy="472.7" r="1.25" fill="#111"/>
<circle cx="413.4" cy="473.4" r="1.25" fill="#111"/>
<circle cx="419.0" cy="472.4" r="1.25" fill="#111"/>
<circle cx="386.7" cy="479.0" r="1.25" fill="#111"/>
<circle cx="393.7" cy="480.4" r="1.25" fill="#111"/>
<circle cx="395.1" cy="480.4" r="1.25" fill="#111"/>
<circle cx="412.0" cy="482.5" r="1.25" fill="#111"/>
<circle cx="374.7" cy="483.9" r="1.25" fill="#111"/>
<circle cx="374.7" cy="486.0" r="1.25" fill="#111"/>
<circle cx="395.8" cy="485.3" r="1.25" fill="#111"/>
<circle cx="394.4" cy="485.7" r="1.25" fill="#111"/>
<circle cx="397.2" cy="485.0" r="1.25" fill="#111"/>
<circle cx="431.0" cy="485.7" r="1.25" fill="#111"/>
<circle cx="421.8" cy="488.1" r="1.25" fill="#111"/>
<circle cx="414.1" cy="489.2" r="1.25" fill="#111"/>
<circle cx="414.1" cy="493.0" r="1.25" fill="#111"/>
<circle cx="390.9" cy="488.4" r="1.25" fill="#111"/>
<circle cx="378.2" cy="488.1" r="1.25" fill="#111"/>
<circle cx="378.9" cy="491.2" r="1.25" fill="#111"/>
<circle cx="382.4" cy="491.2" r="1.25" fill="#111"/>
<circle cx="386.0" cy="491.2" r="1.25" fill="#111"/>
<circle cx="374.7" cy="491.6" r="1.25" fill="#111"/>
<circle cx="376.1" cy="497.3" r="1.25" fill="#111"/>
<circle cx="377.5" cy="496.8" r="1.25" fill="#111"/>
<circle cx="388.8" cy="499.4" r="1.25" fill="#111"/>
<circle cx="385.2" cy="501.5" r="1.25" fill="#111"/>
<circle cx="390.2" cy="508.9" r="1.25" fill="#111"/>
<circle cx="390.6" cy="516.7" r="1.25" fill="#111"/>
<circle cx="441.2" cy="464.5" r="1.25" fill="#111"/>
<circle cx="446.6" cy="461.4" r="1.25" fill="#111"/>
<circle cx="441.2" cy="477.2" r="1.25" fill="#111"/>
<line x1="322.10" y1="472.10" x2="481.10" y2="413.10" stroke="#111" stroke-width="1.8" />
<line x1="307.60" y1="500.36" x2="311.30" y2="500.36" stroke="#333" stroke-width="1" />
<text x="0.00" y="0.00" font-size="8.7" text-anchor="end" font-weight="normal" fill="#333" stroke="#333" stroke-width="0.2" transform="translate(305,503.41) scale(0.9,1)">6</text>
<line x1="307.60" y1="442.30" x2="311.30" y2="442.30" stroke="#333" stroke-width="1" />
<text x="0.00" y="0.00" font-size="8.7" text-anchor="end" font-weight="normal" fill="#333" stroke="#333" stroke-width="0.2" transform="translate(305,445.35) scale(0.9,1)">8</text>
<line x1="307.60" y1="384.24" x2="311.30" y2="384.24" stroke="#333" stroke-width="1" />
<text x="0.00" y="0.00" font-size="8.7" text-anchor="end" font-weight="normal" fill="#333" stroke="#333" stroke-width="0.2" transform="translate(305,387.29) scale(0.9,1)">10</text>
<line x1="307.60" y1="326.18" x2="311.30" y2="326.18" stroke="#333" stroke-width="1" />
<text x="0.00" y="0.00" font-size="8.7" text-anchor="end" font-weight="normal" fill="#333" stroke="#333" stroke-width="0.2" transform="translate(305,329.23) scale(0.9,1)">12</text>
<line x1="316.50" y1="541.40" x2="316.50" y2="544.40" stroke="#333" stroke-width="1" />
<text x="0.00" y="0.00" font-size="8.7" text-anchor="middle" font-weight="normal" fill="#333" stroke="#333" stroke-width="0.2" transform="translate(316.50,555.3) scale(0.9,1)">3</text>
<line x1="345.56" y1="541.40" x2="345.56" y2="544.40" stroke="#333" stroke-width="1" />
<text x="0.00" y="0.00" font-size="8.7" text-anchor="middle" font-weight="normal" fill="#333" stroke="#333" stroke-width="0.2" transform="translate(345.56,555.3) scale(0.9,1)">4</text>
<line x1="374.62" y1="541.40" x2="374.62" y2="544.40" stroke="#333" stroke-width="1" />
<text x="0.00" y="0.00" font-size="8.7" text-anchor="middle" font-weight="normal" fill="#333" stroke="#333" stroke-width="0.2" transform="translate(374.62,555.3) scale(0.9,1)">5</text>
<line x1="403.68" y1="541.40" x2="403.68" y2="544.40" stroke="#333" stroke-width="1" />
<text x="0.00" y="0.00" font-size="8.7" text-anchor="middle" font-weight="normal" fill="#333" stroke="#333" stroke-width="0.2" transform="translate(403.68,555.3) scale(0.9,1)">6</text>
<line x1="432.74" y1="541.40" x2="432.74" y2="544.40" stroke="#333" stroke-width="1" />
<text x="0.00" y="0.00" font-size="8.7" text-anchor="middle" font-weight="normal" fill="#333" stroke="#333" stroke-width="0.2" transform="translate(432.74,555.3) scale(0.9,1)">7</text>
<line x1="461.80" y1="541.40" x2="461.80" y2="544.40" stroke="#333" stroke-width="1" />
<text x="0.00" y="0.00" font-size="8.7" text-anchor="middle" font-weight="normal" fill="#333" stroke="#333" stroke-width="0.2" transform="translate(461.80,555.3) scale(0.9,1)">8</text>
<line x1="490.86" y1="541.40" x2="490.86" y2="544.40" stroke="#333" stroke-width="1" />
<text x="0.00" y="0.00" font-size="8.7" text-anchor="middle" font-weight="normal" fill="#333" stroke="#333" stroke-width="0.2" transform="translate(490.86,555.3) scale(0.9,1)">9</text>
<text x="0" y="0" transform="translate(405.80,568.30) scale(0.9346,1)" font-size="10.27" text-anchor="middle" font-weight="normal" fill="#333" stroke="#333" stroke-width="0.2" >IL15</text>
<text x="0.00" y="0.00" font-size="10" text-anchor="middle" font-weight="normal" fill="#333" stroke="#333" stroke-width="0.2" textLength="20" lengthAdjust="spacingAndGlyphs" transform="translate(290.5,409.5) rotate(-90)">PRF1</text>
<text x="0" y="0" transform="translate(450.80,520.10) scale(0.9346,1)" font-size="8.35" text-anchor="start" font-weight="normal" fill="#222" stroke="#222" stroke-width="0.2" >R<tspan font-size="5.5" dy="1.5">s</tspan><tspan dy="-1.5">=0.37</tspan></text>
<text x="0" y="0" transform="translate(450.80,533.80) scale(0.9346,1)" font-size="8.35" text-anchor="start" font-weight="normal" fill="#222" stroke="#222" stroke-width="0.2" >P&lt; 0.001</text>
<rect x="0.5" y="0.5" width="519" height="575" fill="none" stroke="#222" stroke-width="1.2"/>
</svg>
</body></html>
